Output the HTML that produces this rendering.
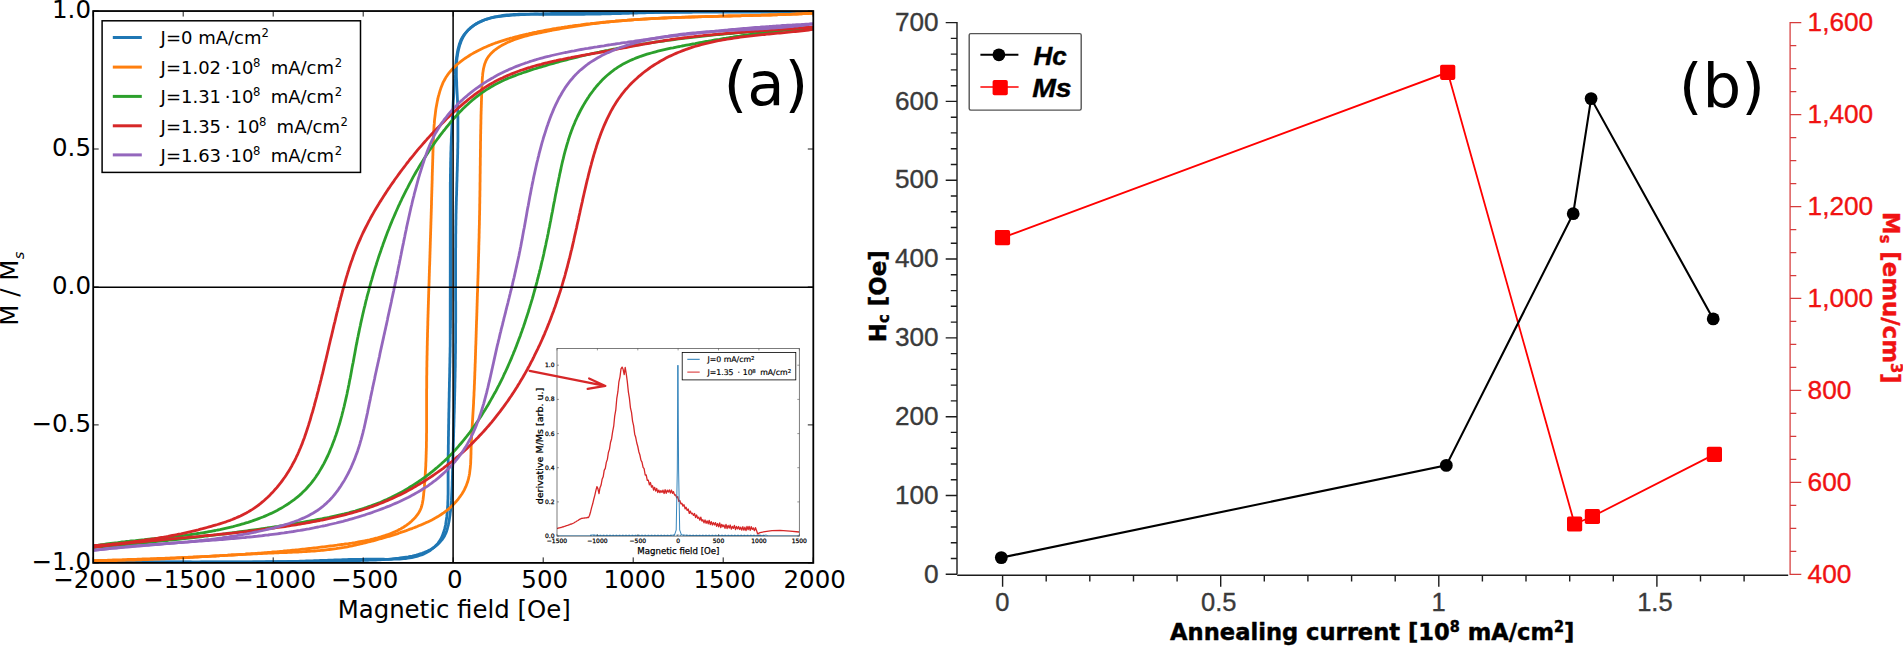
<!DOCTYPE html>
<html lang="en"><head><meta charset="utf-8"><title>Hysteresis loops and annealing current</title>
<style>html,body{margin:0;padding:0;background:#fff;overflow:hidden}svg{display:block}</style></head>
<body>
<svg width="1903" height="647" viewBox="0 0 1903 647">
<rect width="1903" height="647" fill="#fff"/>
<g id="panelA">
<defs><clipPath id="clipA"><rect x="93.2" y="11.05" width="720.0999999999999" height="551.85"/></clipPath></defs>
<g clip-path="url(#clipA)" fill="none" stroke-width="2.8" stroke-linejoin="round" stroke-linecap="butt">
<path stroke="#1f77b4" d="M93.6 562.4L95.6 562.4L97.7 562.4L99.7 562.4L101.7 562.4L103.8 562.4L105.8 562.3L107.8 562.3L109.9 562.3L111.9 562.3L113.9 562.3L115.9 562.3L118.0 562.3L120.0 562.3L122.0 562.3L124.1 562.3L126.1 562.3L128.1 562.3L130.2 562.3L132.2 562.2L134.2 562.2L136.3 562.2L138.3 562.2L140.3 562.2L142.4 562.2L144.4 562.2L146.4 562.2L148.4 562.2L150.5 562.2L152.5 562.2L154.5 562.2L156.6 562.2L158.6 562.2L160.6 562.2L162.7 562.2L164.7 562.2L166.7 562.1L168.8 562.1L170.8 562.1L172.8 562.1L174.8 562.1L176.9 562.1L178.9 562.1L180.9 562.1L183.0 562.1L185.0 562.1L187.0 562.1L189.1 562.1L191.1 562.1L193.1 562.1L195.2 562.1L197.2 562.1L199.2 562.1L201.3 562.0L203.3 562.0L205.3 562.0L207.3 562.0L209.4 562.0L211.4 562.0L213.4 562.0L215.5 562.0L217.5 562.0L219.5 562.0L221.6 562.0L223.6 562.0L225.6 562.0L227.7 562.0L229.7 561.9L231.7 561.9L233.8 561.9L235.8 561.9L237.8 561.9L239.8 561.9L241.9 561.9L243.9 561.9L245.9 561.9L248.0 561.9L250.0 561.8L252.0 561.8L254.1 561.8L256.1 561.8L258.1 561.8L260.2 561.8L262.2 561.8L264.2 561.8L266.3 561.7L268.3 561.7L270.3 561.7L272.3 561.7L274.4 561.7L276.4 561.7L278.4 561.7L280.5 561.6L282.5 561.6L284.5 561.6L286.6 561.6L288.6 561.6L290.6 561.6L292.7 561.5L294.7 561.5L296.7 561.5L298.8 561.5L300.8 561.5L302.8 561.4L304.8 561.4L306.9 561.4L308.9 561.4L310.9 561.4L313.0 561.3L315.0 561.3L317.0 561.3L319.1 561.3L321.1 561.2L323.1 561.2L325.2 561.2L327.2 561.1L329.2 561.1L331.2 561.1L333.3 561.0L335.3 561.0L337.3 561.0L339.4 560.9L341.4 560.9L343.4 560.9L345.5 560.8L347.5 560.8L349.5 560.7L351.6 560.7L353.6 560.6L355.6 560.6L357.6 560.6L359.7 560.5L361.7 560.4L363.7 560.4L365.8 560.3L367.8 560.3L369.8 560.2L371.9 560.1L373.9 560.1L375.9 560.0L377.9 559.9L380.0 559.8L382.0 559.7L384.0 559.6L386.1 559.4L388.1 559.3L390.1 559.1L392.1 558.9L394.2 558.7L396.2 558.5L398.2 558.3L400.2 558.0L402.2 557.7L404.2 557.4L406.2 557.1L408.2 556.8L410.2 556.4L412.2 556.0L414.2 555.5L416.2 555.1L418.1 554.5L420.1 553.9L422.0 553.3L423.9 552.6L425.8 551.8L427.6 551.0L429.5 550.1L431.2 549.1L433.0 548.0L434.6 546.9L436.2 545.6L437.8 544.3L439.3 542.9L440.6 541.4L441.9 539.9L443.1 538.2L444.2 536.5L445.1 534.7L446.0 532.8L446.7 530.9L447.3 529.0L447.8 527.0L448.3 525.1L448.7 523.1L449.1 521.1L449.4 519.1L449.7 517.1L450.0 515.1L450.2 513.0L450.5 511.0L450.7 509.0L450.9 507.0L451.1 505.0L451.2 502.9L451.4 500.9L451.5 498.9L451.6 496.9L451.7 494.8L451.8 492.8L451.9 490.8L452.0 488.7L452.1 486.7L452.2 484.7L452.2 482.6L452.3 480.6L452.4 478.6L452.4 476.6L452.5 474.5L452.5 472.5L452.6 470.5L452.6 468.4L452.7 466.4L452.8 464.4L452.8 462.3L452.9 460.3L452.9 458.3L453.0 456.3L453.0 454.2L453.1 452.2L453.2 450.2L453.2 448.1L453.3 446.1L453.3 444.1L453.4 442.0L453.5 440.0L453.5 438.0L453.6 436.0L453.6 433.9L453.7 431.9L453.7 429.9L453.8 427.8L453.9 425.8L453.9 423.8L454.0 421.7L454.0 419.7L454.1 417.7L454.1 415.6L454.2 413.6L454.3 411.6L454.3 409.6L454.4 407.5L454.4 405.5L454.5 403.5L454.5 401.4L454.6 399.4L454.6 397.4L454.7 395.3L454.7 393.3L454.8 391.3L454.8 389.3L454.9 387.2L454.9 385.2L454.9 383.2L455.0 381.1L455.0 379.1L455.1 377.1L455.1 375.0L455.1 373.0L455.2 371.0L455.2 368.9L455.3 366.9L455.3 364.9L455.3 362.8L455.3 360.8L455.4 358.8L455.4 356.8L455.4 354.7L455.5 352.7L455.5 350.7L455.5 348.6L455.5 346.6L455.5 344.6L455.6 342.5L455.6 340.5L455.6 338.5L455.6 336.4L455.6 334.4L455.6 332.4L455.6 330.4L455.6 328.3L455.6 326.3L455.6 324.3L455.7 322.2L455.7 320.2L455.7 318.2L455.7 316.1L455.7 314.1L455.7 312.1L455.7 310.0L455.7 308.0L455.7 306.0L455.7 303.9L455.7 301.9L455.6 299.9L455.6 297.9L455.6 295.8L455.6 293.8L455.6 291.8L455.6 289.7L455.6 287.7L455.6 285.7L455.6 283.6L455.6 281.6L455.6 279.6L455.6 277.5L455.6 275.5L455.6 273.5L455.6 271.4L455.6 269.4L455.6 267.4L455.6 265.4L455.6 263.3L455.6 261.3L455.6 259.3L455.6 257.2L455.6 255.2L455.6 253.2L455.6 251.1L455.6 249.1L455.7 247.1L455.7 245.0L455.7 243.0L455.7 241.0L455.7 238.9L455.7 236.9L455.7 234.9L455.8 232.9L455.8 230.8L455.8 228.8L455.8 226.8L455.9 224.7L455.9 222.7L455.9 220.7L456.0 218.6L456.0 216.6L456.0 214.6L456.1 212.5L456.1 210.5L456.2 208.5L456.2 206.5L456.3 204.4L456.3 202.4L456.4 200.4L456.4 198.3L456.5 196.3L456.6 194.3L456.6 192.2L456.7 190.2L456.7 188.2L456.8 186.1L456.8 184.1L456.9 182.1L457.0 180.1L457.0 178.0L457.1 176.0L457.1 174.0L457.2 171.9L457.3 169.9L457.3 167.9L457.4 165.8L457.4 163.8L457.5 161.8L457.5 159.8L457.6 157.7L457.6 155.7L457.7 153.7L457.7 151.6L457.7 149.6L457.8 147.6L457.8 145.5L457.8 143.5L457.9 141.5L457.9 139.4L457.9 137.4L457.9 135.4L457.9 133.4L457.9 131.3L457.9 129.3L457.9 127.3L457.9 125.2L457.9 123.2L457.9 121.2L457.9 119.1L457.9 117.1L457.8 115.1L457.8 113.0L457.8 111.0L457.7 109.0L457.7 106.9L457.6 104.9L457.6 102.9L457.5 100.9L457.4 98.8L457.3 96.8L457.2 94.8L457.1 92.7L457.0 90.7L456.9 88.7L456.8 86.7L456.7 84.6L456.7 82.6L456.6 80.6L456.5 78.5L456.4 76.5L456.4 74.5L456.4 72.4L456.4 70.4L456.4 68.4L456.5 66.4L456.5 64.3L456.7 62.3L456.8 60.3L457.0 58.3L457.3 56.2L457.6 54.2L458.0 52.2L458.4 50.2L458.9 48.3L459.4 46.3L460.0 44.4L460.7 42.5L461.4 40.6L462.3 38.7L463.2 36.9L464.2 35.2L465.3 33.5L466.6 31.8L467.9 30.3L469.3 28.9L470.8 27.5L472.4 26.3L474.1 25.1L475.8 24.0L477.6 23.0L479.4 22.1L481.3 21.3L483.1 20.5L485.0 19.8L487.0 19.1L488.9 18.5L490.8 17.9L492.8 17.4L494.8 16.9L496.8 16.5L498.8 16.1L500.8 15.8L502.8 15.5L504.8 15.2L506.8 15.0L508.8 14.8L510.8 14.6L512.9 14.5L514.9 14.3L516.9 14.3L519.0 14.2L521.0 14.1L523.0 14.1L525.1 14.1L527.1 14.1L529.1 14.1L531.1 14.1L533.2 14.2L535.2 14.2L537.2 14.2L539.3 14.3L541.3 14.3L543.3 14.3L545.4 14.3L547.4 14.4L549.4 14.4L551.5 14.4L553.5 14.4L555.5 14.4L557.5 14.4L559.6 14.4L561.6 14.4L563.6 14.4L565.7 14.4L567.7 14.4L569.7 14.4L571.8 14.4L573.8 14.4L575.8 14.4L577.9 14.3L579.9 14.3L581.9 14.3L584.0 14.3L586.0 14.2L588.0 14.2L590.0 14.2L592.1 14.1L594.1 14.1L596.1 14.1L598.2 14.0L600.2 14.0L602.2 13.9L604.3 13.9L606.3 13.9L608.3 13.8L610.4 13.8L612.4 13.7L614.4 13.7L616.4 13.6L618.5 13.5L620.5 13.5L622.5 13.4L624.6 13.4L626.6 13.3L628.6 13.3L630.7 13.2L632.7 13.1L634.7 13.1L636.7 13.0L638.8 12.9L640.8 12.9L642.8 12.8L644.9 12.8L646.9 12.7L648.9 12.6L651.0 12.6L653.0 12.5L655.0 12.4L657.1 12.4L659.1 12.3L661.1 12.2L663.1 12.2L665.2 12.1L667.2 12.0L669.2 12.0L671.3 11.9L673.3 11.9L675.3 11.8L677.4 11.7L679.4 11.7L681.4 11.6L683.4 11.5L685.5 11.5L687.5 11.4L689.5 11.4L691.6 11.3L693.6 11.3L695.6 11.2L697.7 11.1L699.7 11.1L701.7 11.0L703.7 11.0L705.8 10.9L707.8 10.9L709.8 10.9L711.9 10.8L713.9 10.8L715.9 10.7L718.0 10.7L720.0 10.6L722.0 10.6L724.1 10.6L726.1 10.5L728.1 10.5L730.1 10.5L732.2 10.5L734.2 10.4L736.2 10.4L738.3 10.4L740.3 10.4L742.3 10.4L744.4 10.4L746.4 10.4L748.4 10.4L750.5 10.3L752.5 10.3L754.5 10.3L756.6 10.4L758.6 10.4L760.6 10.4L762.6 10.4L764.7 10.4L766.7 10.4L768.7 10.5L770.8 10.5L772.8 10.5L774.8 10.5L776.9 10.6L778.9 10.6L780.9 10.7L783.0 10.7L785.0 10.8L787.0 10.8L789.0 10.9L791.1 10.9L793.1 11.0L795.1 11.1L797.2 11.2L799.2 11.2L801.2 11.3L803.3 11.4L805.3 11.5L807.3 11.6L809.3 11.7L811.4 11.8L813.4 11.9"/>
<path stroke="#1f77b4" d="M813.0 11.8L811.0 11.8L808.9 11.8L806.9 11.8L804.9 11.9L802.9 11.9L800.8 11.9L798.8 11.9L796.8 11.9L794.7 11.9L792.7 11.9L790.7 11.9L788.7 11.9L786.6 12.0L784.6 12.0L782.6 12.0L780.5 12.0L778.5 12.0L776.5 12.0L774.4 12.0L772.4 12.0L770.4 12.0L768.4 12.0L766.3 12.0L764.3 12.0L762.3 12.1L760.2 12.1L758.2 12.1L756.2 12.1L754.1 12.1L752.1 12.1L750.1 12.1L748.1 12.1L746.0 12.1L744.0 12.1L742.0 12.1L739.9 12.1L737.9 12.1L735.9 12.1L733.8 12.1L731.8 12.1L729.8 12.1L727.8 12.2L725.7 12.2L723.7 12.2L721.7 12.2L719.6 12.2L717.6 12.2L715.6 12.2L713.5 12.2L711.5 12.2L709.5 12.2L707.5 12.2L705.4 12.2L703.4 12.2L701.4 12.2L699.3 12.2L697.3 12.2L695.3 12.2L693.2 12.2L691.2 12.3L689.2 12.3L687.2 12.3L685.1 12.3L683.1 12.3L681.1 12.3L679.0 12.3L677.0 12.3L675.0 12.3L673.0 12.3L670.9 12.3L668.9 12.3L666.9 12.3L664.8 12.3L662.8 12.4L660.8 12.4L658.7 12.4L656.7 12.4L654.7 12.4L652.7 12.4L650.6 12.4L648.6 12.4L646.6 12.4L644.5 12.4L642.5 12.5L640.5 12.5L638.4 12.5L636.4 12.5L634.4 12.5L632.4 12.5L630.3 12.5L628.3 12.6L626.3 12.6L624.2 12.6L622.2 12.6L620.2 12.6L618.1 12.6L616.1 12.6L614.1 12.7L612.1 12.7L610.0 12.7L608.0 12.7L606.0 12.7L603.9 12.8L601.9 12.8L599.9 12.8L597.8 12.8L595.8 12.8L593.8 12.9L591.8 12.9L589.7 12.9L587.7 12.9L585.7 12.9L583.6 13.0L581.6 13.0L579.6 13.0L577.6 13.0L575.5 13.1L573.5 13.1L571.5 13.1L569.4 13.2L567.4 13.2L565.4 13.2L563.3 13.3L561.3 13.3L559.3 13.3L557.3 13.4L555.2 13.4L553.2 13.5L551.2 13.5L549.1 13.6L547.1 13.6L545.1 13.7L543.1 13.7L541.0 13.8L539.0 13.9L537.0 14.0L534.9 14.0L532.9 14.1L530.9 14.2L528.9 14.3L526.8 14.4L524.8 14.5L522.8 14.6L520.7 14.7L518.7 14.8L516.7 14.9L514.7 15.1L512.6 15.2L510.6 15.4L508.6 15.5L506.6 15.7L504.5 15.8L502.5 16.0L500.5 16.3L498.5 16.5L496.5 16.8L494.5 17.2L492.5 17.6L490.5 18.0L488.6 18.6L486.6 19.1L484.7 19.8L482.8 20.6L481.0 21.4L479.1 22.3L477.4 23.2L475.6 24.3L473.9 25.4L472.3 26.6L470.7 27.9L469.2 29.2L467.7 30.6L466.3 32.1L465.0 33.6L463.7 35.2L462.6 36.9L461.6 38.7L460.7 40.5L460.0 42.4L459.3 44.3L458.8 46.3L458.3 48.2L457.8 50.2L457.4 52.2L457.1 54.2L456.8 56.2L456.5 58.2L456.2 60.2L456.0 62.2L455.8 64.3L455.6 66.3L455.5 68.3L455.3 70.3L455.2 72.4L455.1 74.4L454.9 76.4L454.8 78.4L454.6 80.5L454.5 82.5L454.4 84.5L454.2 86.5L454.1 88.6L454.0 90.6L453.9 92.6L453.7 94.6L453.6 96.7L453.5 98.7L453.3 100.7L453.2 102.7L453.1 104.8L453.0 106.8L452.9 108.8L452.7 110.8L452.6 112.9L452.5 114.9L452.4 116.9L452.3 118.9L452.2 121.0L452.1 123.0L452.0 125.0L451.9 127.1L451.8 129.1L451.7 131.1L451.6 133.1L451.5 135.2L451.4 137.2L451.3 139.2L451.3 141.3L451.2 143.3L451.1 145.3L451.0 147.3L451.0 149.4L450.9 151.4L450.8 153.4L450.8 155.5L450.8 285.4L450.8 287.4L450.8 283.3L450.8 289.4L450.8 281.3L450.8 291.4L450.8 279.3L450.8 293.5L450.8 277.2L450.8 295.5L450.8 275.2L450.8 297.5L450.8 273.2L450.7 299.6L450.7 271.1L450.7 157.5L450.7 269.1L450.7 301.6L450.7 267.1L450.7 303.6L450.7 265.1L450.7 305.7L450.7 263.0L450.7 307.7L450.7 159.5L450.7 261.0L450.7 309.7L450.7 259.0L450.7 311.7L450.6 256.9L450.6 161.5L450.6 254.9L450.6 313.8L450.6 252.9L450.6 315.8L450.6 250.8L450.6 163.6L450.6 317.8L450.6 248.8L450.6 319.9L450.6 246.8L450.6 165.6L450.5 244.8L450.5 321.9L450.5 242.7L450.5 167.6L450.5 323.9L450.5 240.7L450.5 238.7L450.5 326.0L450.5 169.7L450.5 236.6L450.5 328.0L450.5 234.6L450.5 171.7L450.4 232.6L450.4 330.0L450.4 173.7L450.4 230.6L450.4 228.5L450.4 332.0L450.4 175.7L450.4 226.5L450.4 177.8L450.4 224.5L450.4 334.1L450.4 222.4L450.4 179.8L450.3 220.4L450.3 336.1L450.3 181.8L450.3 218.4L450.3 216.3L450.3 183.9L450.3 214.3L450.3 338.1L450.3 185.9L450.3 212.3L450.3 187.9L450.3 210.3L450.3 190.0L450.3 208.2L450.3 192.0L450.3 206.2L450.3 340.2L450.3 194.0L450.3 204.2L450.3 202.1L450.3 196.0L450.3 200.1L450.3 198.1L450.2 342.2L450.2 344.2L450.2 346.2L450.1 348.3L450.1 350.3L450.1 352.3L450.0 354.4L450.0 356.4L449.9 358.4L449.9 360.5L449.9 362.5L449.8 364.5L449.8 366.5L449.7 368.6L449.7 370.6L449.7 372.6L449.6 374.7L449.6 376.7L449.5 378.7L449.5 380.7L449.4 382.8L449.4 384.8L449.4 386.8L449.3 388.9L449.3 390.9L449.2 392.9L449.2 395.0L449.2 397.0L449.1 399.0L449.1 401.0L449.0 403.1L449.0 405.1L449.0 407.1L448.9 409.2L448.9 411.2L448.8 413.2L448.8 415.2L448.8 417.3L448.7 419.3L448.7 421.3L448.7 423.4L448.6 425.4L448.6 427.4L448.6 429.5L448.5 431.5L448.5 433.5L448.5 435.5L448.4 437.6L448.4 439.6L448.4 441.6L448.4 443.7L448.3 445.7L448.3 447.7L448.3 449.8L448.3 451.8L448.2 453.8L448.2 455.8L448.2 457.9L448.2 459.9L448.2 461.9L448.2 464.0L448.1 466.0L448.1 468.0L448.1 470.0L448.1 472.1L448.1 474.1L448.1 476.1L448.1 484.3L448.1 478.2L448.1 482.2L448.1 486.3L448.1 480.2L448.1 488.3L448.1 490.3L448.1 492.4L448.1 494.4L448.0 496.4L448.0 498.5L447.9 500.5L447.8 502.5L447.8 504.6L447.6 506.6L447.5 508.6L447.4 510.6L447.2 512.6L447.0 514.7L446.8 516.7L446.5 518.7L446.2 520.7L445.9 522.7L445.6 524.7L445.2 526.7L444.7 528.7L444.1 530.6L443.5 532.6L442.8 534.5L442.1 536.4L441.2 538.2L440.2 539.9L439.1 541.7L437.9 543.3L436.6 544.8L435.2 546.3L433.7 547.7L432.1 549.0L430.5 550.2L428.8 551.3L427.0 552.3L425.2 553.3L423.4 554.1L421.5 554.9L419.6 555.5L417.7 556.1L415.7 556.7L413.7 557.1L411.7 557.6L409.7 557.9L407.7 558.2L405.7 558.5L403.7 558.7L401.7 558.9L399.7 559.0L397.6 559.1L395.6 559.2L393.6 559.2L391.5 559.3L389.5 559.3L387.5 559.3L385.5 559.3L383.4 559.2L381.4 559.2L379.4 559.2L377.3 559.2L375.3 559.2L373.3 559.2L371.2 559.2L369.2 559.2L367.2 559.2L365.2 559.2L363.1 559.3L361.1 559.3L359.1 559.3L357.0 559.4L355.0 559.4L353.0 559.4L350.9 559.5L348.9 559.5L346.9 559.6L344.9 559.7L342.8 559.7L340.8 559.8L338.8 559.9L336.7 559.9L334.7 560.0L332.7 560.1L330.7 560.1L328.6 560.2L326.6 560.3L324.6 560.4L322.5 560.4L320.5 560.5L318.5 560.6L316.5 560.7L314.4 560.7L312.4 560.8L310.4 560.9L308.3 560.9L306.3 561.0L304.3 561.1L302.3 561.1L300.2 561.2L298.2 561.3L296.2 561.3L294.1 561.4L292.1 561.4L290.1 561.5L288.1 561.5L286.0 561.6L284.0 561.6L282.0 561.7L279.9 561.7L277.9 561.7L275.9 561.8L273.9 561.8L271.8 561.8L269.8 561.9L267.8 561.9L265.7 561.9L263.7 562.0L261.7 562.0L259.6 562.0L257.6 562.0L255.6 562.0L253.6 562.0L251.5 562.1L249.5 562.1L247.5 562.1L245.4 562.1L243.4 562.1L241.4 562.1L239.3 562.1L237.3 562.1L235.3 562.1L233.3 562.1L231.2 562.1L229.2 562.1L227.2 562.1L225.1 562.1L223.1 562.1L221.1 562.1L219.0 562.1L217.0 562.1L215.0 562.1L213.0 562.1L210.9 562.1L208.9 562.1L206.9 562.1L204.8 562.1L202.8 562.1L200.8 562.1L198.7 562.1L196.7 562.1L194.7 562.1L192.7 562.1L190.6 562.0L188.6 562.0L186.6 562.0L184.5 562.0L182.5 562.0L180.5 562.0L178.5 562.0L176.4 562.0L174.4 562.0L172.4 562.0L170.3 562.0L168.3 562.0L166.3 561.9L164.2 561.9L162.2 561.9L160.2 561.9L158.2 561.9L156.1 561.9L154.1 561.9L152.1 561.9L150.0 561.9L148.0 561.9L146.0 561.9L143.9 561.9L141.9 561.9L139.9 561.9L137.9 561.9L135.8 561.9L133.8 561.9L131.8 561.9L129.7 561.9L127.7 561.9L125.7 561.9L123.6 562.0L121.6 562.0L119.6 562.0L117.6 562.0L115.5 562.0L113.5 562.0L111.5 562.1L109.4 562.1L107.4 562.1L105.4 562.1L103.3 562.1L101.3 562.2L99.3 562.2L97.3 562.2L95.2 562.3L93.2 562.3"/>
<path stroke="#ff7f0e" d="M93.2 560.7L94.9 560.7L96.5 560.7L98.2 560.7L99.8 560.7L101.5 560.7L103.1 560.7L104.8 560.6L106.4 560.6L108.1 560.6L109.7 560.6L111.4 560.6L113.0 560.5L114.7 560.5L116.4 560.5L118.0 560.4L119.7 560.4L121.3 560.4L123.0 560.3L124.6 560.3L126.3 560.2L127.9 560.2L129.6 560.1L131.2 560.1L132.9 560.0L134.5 560.0L136.2 559.9L137.8 559.9L139.5 559.8L141.2 559.8L142.8 559.7L144.5 559.6L146.1 559.6L147.8 559.5L149.4 559.4L151.1 559.4L152.7 559.3L154.4 559.2L156.0 559.2L157.7 559.1L159.3 559.0L161.0 558.9L162.6 558.9L164.3 558.8L165.9 558.7L167.6 558.6L169.2 558.5L170.9 558.4L172.5 558.4L174.2 558.3L175.8 558.2L177.5 558.1L179.2 558.0L180.8 557.9L182.5 557.8L184.1 557.8L185.8 557.7L187.4 557.6L189.1 557.5L190.7 557.4L192.4 557.3L194.0 557.2L195.7 557.1L197.3 557.0L199.0 556.9L200.6 556.8L202.3 556.7L203.9 556.6L205.6 556.5L207.2 556.5L208.9 556.4L210.5 556.3L212.2 556.2L213.8 556.1L215.5 556.0L217.1 555.9L218.8 555.8L220.4 555.7L222.1 555.6L223.7 555.5L225.4 555.4L227.0 555.3L228.7 555.2L230.3 555.1L232.0 555.0L233.6 555.0L235.3 554.9L237.0 554.8L238.6 554.7L240.3 554.6L241.9 554.5L243.6 554.4L245.2 554.3L246.9 554.2L248.5 554.2L250.2 554.1L251.8 554.0L253.5 553.9L255.1 553.8L256.8 553.8L258.4 553.7L260.1 553.6L261.7 553.5L263.4 553.4L265.0 553.4L266.7 553.3L268.3 553.2L270.0 553.1L271.6 553.1L273.3 553.0L274.9 552.9L276.6 552.9L278.3 552.8L279.9 552.7L281.6 552.7L283.2 552.6L284.9 552.6L286.5 552.5L288.2 552.4L289.8 552.4L291.5 552.3L293.1 552.2L294.8 552.1L296.4 552.1L298.1 552.0L299.7 551.9L301.4 551.8L303.0 551.7L304.7 551.6L306.3 551.5L308.0 551.4L309.6 551.3L311.3 551.2L312.9 551.1L314.6 551.0L316.2 550.9L317.9 550.7L319.5 550.6L321.2 550.4L322.8 550.3L324.5 550.1L326.1 549.9L327.8 549.7L329.4 549.5L331.0 549.3L332.7 549.1L334.3 548.9L336.0 548.7L337.6 548.4L339.2 548.2L340.9 547.9L342.5 547.6L344.1 547.4L345.8 547.1L347.4 546.8L349.0 546.4L350.6 546.1L352.2 545.8L353.9 545.4L355.5 545.1L357.1 544.7L358.7 544.4L360.3 544.0L361.9 543.6L363.5 543.2L365.1 542.8L366.8 542.4L368.4 542.0L370.0 541.6L371.6 541.2L373.2 540.8L374.8 540.4L376.4 539.9L377.9 539.5L379.5 539.0L381.1 538.6L382.7 538.1L384.3 537.7L385.9 537.2L387.5 536.7L389.1 536.3L390.6 535.8L392.2 535.3L393.8 534.8L395.4 534.3L397.0 533.8L398.5 533.3L400.1 532.7L401.7 532.2L403.2 531.7L404.8 531.1L406.3 530.6L407.9 530.0L409.4 529.4L411.0 528.8L412.5 528.3L414.1 527.7L415.6 527.1L417.2 526.5L418.7 525.8L420.2 525.2L421.8 524.6L423.3 523.9L424.8 523.3L426.3 522.6L427.8 521.9L429.3 521.2L430.8 520.5L432.3 519.7L433.7 518.9L435.2 518.1L436.6 517.3L438.0 516.5L439.4 515.6L440.8 514.7L442.2 513.8L443.6 512.9L444.9 511.9L446.2 510.9L447.5 509.8L448.8 508.8L450.0 507.7L451.2 506.6L452.4 505.4L453.6 504.3L454.7 503.1L455.9 501.8L456.9 500.6L458.0 499.3L459.0 498.0L460.0 496.7L461.0 495.3L461.9 494.0L462.8 492.6L463.6 491.1L464.4 489.7L465.1 488.2L465.8 486.7L466.4 485.2L467.0 483.6L467.6 482.1L468.0 480.5L468.5 478.9L468.8 477.3L469.2 475.6L469.5 474.0L469.7 472.4L469.9 470.7L470.1 469.1L470.3 467.5L470.4 465.8L470.6 464.2L470.7 462.5L470.7 460.9L470.8 459.2L470.9 457.5L470.9 455.9L471.0 454.2L471.0 452.6L471.0 450.9L471.1 449.3L471.1 447.6L471.2 446.0L471.3 444.3L471.3 442.7L471.4 441.0L471.5 439.4L471.6 437.7L471.6 436.1L471.7 434.4L471.8 432.8L471.9 431.1L472.0 429.5L472.1 427.8L472.2 426.2L472.3 424.5L472.4 422.9L472.5 421.2L472.6 419.5L472.7 417.9L472.8 416.2L472.9 414.6L473.0 412.9L473.1 411.3L473.2 409.6L473.3 408.0L473.4 406.3L473.5 404.7L473.6 403.0L473.6 401.4L473.7 399.7L473.8 398.1L473.9 396.4L474.0 394.8L474.0 393.1L474.1 391.5L474.2 389.8L474.3 388.2L474.3 386.5L474.4 384.9L474.5 383.2L474.5 381.6L474.6 379.9L474.7 378.2L474.7 376.6L474.8 374.9L474.8 373.3L474.9 371.6L475.0 370.0L475.0 368.3L475.1 366.7L475.1 365.0L475.2 363.4L475.3 361.7L475.3 360.1L475.4 358.4L475.4 356.8L475.5 355.1L475.5 353.5L475.6 351.8L475.6 350.1L475.7 348.5L475.7 346.8L475.8 345.2L475.9 343.5L475.9 341.9L476.0 340.2L476.0 338.6L476.1 336.9L476.1 335.3L476.2 333.6L476.2 332.0L476.3 330.3L476.3 328.7L476.4 327.0L476.4 325.4L476.5 323.7L476.5 322.0L476.6 320.4L476.7 318.7L476.7 317.1L476.8 315.4L476.8 313.8L476.9 312.1L476.9 310.5L477.0 308.8L477.0 307.2L477.1 305.5L477.1 303.9L477.2 302.2L477.2 300.6L477.3 298.9L477.3 297.2L477.4 295.6L477.4 293.9L477.5 292.3L477.6 290.6L477.6 289.0L477.7 287.3L477.7 285.7L477.8 284.0L477.8 282.4L477.9 280.7L477.9 279.1L478.0 277.4L478.0 275.8L478.1 274.1L478.1 272.5L478.2 270.8L478.2 269.1L478.3 267.5L478.3 265.8L478.3 264.2L478.4 262.5L478.4 260.9L478.5 259.2L478.5 257.6L478.6 255.9L478.6 254.3L478.7 252.6L478.7 251.0L478.8 249.3L478.8 247.7L478.8 246.0L478.9 244.3L478.9 242.7L479.0 241.0L479.0 239.4L479.1 237.7L479.1 236.1L479.1 234.4L479.2 232.8L479.2 231.1L479.2 229.5L479.3 227.8L479.3 226.2L479.4 224.5L479.4 222.8L479.4 221.2L479.5 219.5L479.5 217.9L479.5 216.2L479.6 214.6L479.6 212.9L479.6 211.3L479.7 209.6L479.7 208.0L479.7 206.3L479.7 204.7L479.8 203.0L479.8 201.4L479.8 199.7L479.8 198.0L479.9 196.4L479.9 194.7L479.9 193.1L479.9 191.4L480.0 189.8L480.0 188.1L480.0 186.5L480.0 184.8L480.0 183.2L480.1 181.5L480.1 179.9L480.1 178.2L480.1 176.5L480.1 174.9L480.2 173.2L480.2 171.6L480.2 169.9L480.2 168.3L480.2 166.6L480.3 165.0L480.3 163.3L480.3 161.7L480.3 160.0L480.3 158.4L480.4 156.7L480.4 155.0L480.4 153.4L480.4 151.7L480.4 150.1L480.5 148.4L480.5 146.8L480.5 145.1L480.5 143.5L480.5 141.8L480.6 140.2L480.6 138.5L480.6 136.9L480.6 135.2L480.7 133.5L480.7 131.9L480.7 130.2L480.8 128.6L480.8 126.9L480.8 125.3L480.9 123.6L480.9 122.0L480.9 120.3L481.0 118.7L481.0 117.0L481.0 115.4L481.1 113.7L481.1 112.0L481.2 110.4L481.2 108.7L481.3 107.1L481.3 105.4L481.4 103.8L481.4 102.1L481.5 100.5L481.5 98.8L481.6 97.2L481.6 95.5L481.7 93.9L481.7 92.2L481.8 90.6L481.9 88.9L481.9 87.3L482.0 85.6L482.1 83.9L482.2 82.3L482.2 80.6L482.3 79.0L482.4 77.3L482.6 75.7L482.7 74.0L482.9 72.4L483.2 70.8L483.4 69.1L483.8 67.5L484.2 65.9L484.6 64.3L485.2 62.8L485.8 61.2L486.5 59.7L487.3 58.3L488.2 56.9L489.2 55.6L490.3 54.3L491.4 53.1L492.6 52.0L493.8 50.9L495.1 49.8L496.5 48.8L497.8 47.9L499.2 47.0L500.6 46.1L502.0 45.3L503.5 44.5L505.0 43.8L506.4 43.0L507.9 42.3L509.5 41.6L511.0 41.0L512.5 40.4L514.0 39.8L515.6 39.2L517.2 38.6L518.7 38.1L520.3 37.6L521.9 37.1L523.5 36.7L525.1 36.2L526.7 35.8L528.3 35.4L529.9 35.0L531.5 34.6L533.1 34.2L534.7 33.9L536.3 33.5L537.9 33.2L539.6 32.8L541.2 32.5L542.8 32.2L544.4 31.8L546.0 31.5L547.7 31.2L549.3 30.9L550.9 30.5L552.5 30.2L554.2 29.9L555.8 29.6L557.4 29.3L559.0 29.0L560.7 28.7L562.3 28.4L563.9 28.2L565.5 27.9L567.2 27.6L568.8 27.3L570.4 27.1L572.1 26.8L573.7 26.5L575.3 26.3L577.0 26.0L578.6 25.8L580.2 25.5L581.9 25.3L583.5 25.1L585.2 24.8L586.8 24.6L588.4 24.4L590.1 24.2L591.7 23.9L593.4 23.7L595.0 23.5L596.6 23.3L598.3 23.1L599.9 22.9L601.6 22.7L603.2 22.6L604.9 22.4L606.5 22.2L608.1 22.0L609.8 21.9L611.4 21.7L613.1 21.5L614.7 21.4L616.4 21.2L618.0 21.1L619.7 20.9L621.3 20.8L623.0 20.6L624.6 20.5L626.3 20.3L627.9 20.2L629.6 20.1L631.2 20.0L632.9 19.8L634.5 19.7L636.2 19.6L637.8 19.5L639.5 19.4L641.1 19.2L642.8 19.1L644.4 19.0L646.1 18.9L647.7 18.8L649.4 18.7L651.0 18.6L652.7 18.5L654.3 18.5L656.0 18.4L657.6 18.3L659.3 18.2L660.9 18.1L662.6 18.0L664.2 18.0L665.9 17.9L667.5 17.8L669.2 17.7L670.8 17.7L672.5 17.6L674.1 17.5L675.8 17.5L677.4 17.4L679.1 17.3L680.8 17.3L682.4 17.2L684.1 17.2L685.7 17.1L687.4 17.1L689.0 17.0L690.7 17.0L692.3 16.9L694.0 16.9L695.6 16.8L697.3 16.8L698.9 16.7L700.6 16.7L702.2 16.6L703.9 16.6L705.5 16.5L707.2 16.5L708.9 16.5L710.5 16.4L712.2 16.4L713.8 16.3L715.5 16.3L717.1 16.3L718.8 16.2L720.4 16.2L722.1 16.2L723.7 16.1L725.4 16.1L727.0 16.0L728.7 16.0L730.4 16.0L732.0 15.9L733.7 15.9L735.3 15.9L737.0 15.8L738.6 15.8L740.3 15.8L741.9 15.7L743.6 15.7L745.2 15.6L746.9 15.6L748.5 15.6L750.2 15.5L751.8 15.5L753.5 15.4L755.2 15.4L756.8 15.4L758.5 15.3L760.1 15.3L761.8 15.2L763.4 15.2L765.1 15.1L766.7 15.1L768.4 15.1L770.0 15.0L771.7 15.0L773.3 14.9L775.0 14.9L776.6 14.8L778.3 14.7L780.0 14.7L781.6 14.6L783.3 14.6L784.9 14.5L786.6 14.4L788.2 14.4L789.9 14.3L791.5 14.3L793.2 14.2L794.8 14.1L796.5 14.0L798.1 14.0L799.8 13.9L801.4 13.8L803.1 13.7L804.7 13.6L806.4 13.6L808.0 13.5L809.7 13.4L811.3 13.3L813.0 13.2"/>
<path stroke="#ff7f0e" d="M813.0 13.2L811.4 13.3L809.7 13.4L808.1 13.5L806.4 13.5L804.8 13.6L803.1 13.7L801.5 13.8L799.8 13.9L798.2 13.9L796.5 14.0L794.9 14.1L793.2 14.1L791.6 14.2L789.9 14.3L788.3 14.3L786.6 14.4L785.0 14.5L783.3 14.5L781.6 14.6L780.0 14.6L778.3 14.7L776.7 14.8L775.0 14.8L773.4 14.9L771.7 14.9L770.1 15.0L768.4 15.0L766.8 15.1L765.1 15.1L763.5 15.2L761.8 15.2L760.2 15.3L758.5 15.3L756.9 15.3L755.2 15.4L753.6 15.4L751.9 15.5L750.3 15.5L748.6 15.6L747.0 15.6L745.3 15.6L743.7 15.7L742.0 15.7L740.4 15.8L738.7 15.8L737.1 15.8L735.4 15.9L733.8 15.9L732.1 16.0L730.5 16.0L728.8 16.0L727.2 16.1L725.5 16.1L723.9 16.2L722.2 16.2L720.6 16.2L718.9 16.3L717.3 16.3L715.6 16.4L714.0 16.4L712.3 16.5L710.7 16.5L709.0 16.5L707.4 16.6L705.7 16.6L704.0 16.7L702.4 16.7L700.7 16.8L699.1 16.8L697.4 16.9L695.8 16.9L694.1 17.0L692.5 17.0L690.8 17.1L689.2 17.1L687.5 17.2L685.9 17.2L684.2 17.3L682.6 17.3L680.9 17.4L679.3 17.4L677.6 17.5L676.0 17.6L674.3 17.6L672.7 17.7L671.0 17.8L669.4 17.8L667.7 17.9L666.1 18.0L664.4 18.0L662.8 18.1L661.1 18.2L659.5 18.3L657.8 18.4L656.2 18.4L654.5 18.5L652.9 18.6L651.2 18.7L649.6 18.8L647.9 18.9L646.3 19.0L644.6 19.1L643.0 19.2L641.3 19.3L639.7 19.4L638.0 19.5L636.4 19.6L634.7 19.7L633.1 19.8L631.5 19.9L629.8 20.0L628.2 20.1L626.5 20.3L624.9 20.4L623.2 20.5L621.6 20.6L619.9 20.8L618.3 20.9L616.6 21.0L615.0 21.2L613.3 21.3L611.7 21.5L610.1 21.6L608.4 21.8L606.8 21.9L605.1 22.1L603.5 22.2L601.8 22.4L600.2 22.6L598.5 22.8L596.9 22.9L595.3 23.1L593.6 23.3L592.0 23.5L590.3 23.7L588.7 23.8L587.1 24.0L585.4 24.2L583.8 24.4L582.1 24.6L580.5 24.9L578.9 25.1L577.2 25.3L575.6 25.5L574.0 25.7L572.3 26.0L570.7 26.2L569.0 26.4L567.4 26.7L565.8 26.9L564.1 27.2L562.5 27.4L560.9 27.7L559.3 27.9L557.6 28.2L556.0 28.5L554.4 28.7L552.7 29.0L551.1 29.3L549.5 29.6L547.9 29.9L546.2 30.2L544.6 30.5L543.0 30.8L541.4 31.1L539.7 31.4L538.1 31.7L536.5 32.1L534.9 32.4L533.3 32.7L531.6 33.1L530.0 33.4L528.4 33.8L526.8 34.1L525.2 34.5L523.6 34.9L522.0 35.3L520.4 35.7L518.8 36.1L517.2 36.5L515.6 36.9L514.0 37.3L512.4 37.8L510.8 38.2L509.2 38.7L507.6 39.1L506.0 39.6L504.5 40.1L502.9 40.6L501.3 41.1L499.8 41.6L498.2 42.1L496.6 42.7L495.1 43.2L493.5 43.8L492.0 44.4L490.4 45.0L488.9 45.6L487.4 46.2L485.9 46.9L484.4 47.6L482.9 48.3L481.4 49.0L479.9 49.7L478.4 50.4L476.9 51.2L475.5 52.0L474.0 52.8L472.6 53.6L471.2 54.4L469.8 55.3L468.4 56.2L467.0 57.1L465.6 58.0L464.3 58.9L462.9 59.9L461.6 60.9L460.3 61.9L459.0 63.0L457.8 64.0L456.5 65.1L455.3 66.2L454.1 67.4L452.9 68.5L451.8 69.8L450.7 71.0L449.7 72.2L448.6 73.5L447.6 74.9L446.7 76.2L445.8 77.6L445.0 79.0L444.2 80.5L443.4 81.9L442.7 83.4L442.1 85.0L441.5 86.5L440.9 88.1L440.4 89.6L439.9 91.2L439.4 92.8L439.0 94.4L438.5 96.0L438.1 97.6L437.8 99.2L437.4 100.8L437.1 102.4L436.8 104.0L436.5 105.7L436.2 107.3L435.9 108.9L435.7 110.5L435.5 112.2L435.3 113.8L435.1 115.5L434.9 117.1L434.7 118.7L434.5 120.4L434.4 122.0L434.3 123.7L434.1 125.3L434.0 127.0L433.9 128.6L433.8 130.3L433.7 131.9L433.7 133.6L433.6 135.2L433.5 136.9L433.4 138.5L433.4 140.2L433.3 141.8L433.3 143.5L433.2 145.1L433.2 146.8L433.1 148.4L433.0 150.1L433.0 151.7L432.9 153.4L432.9 155.0L432.8 156.7L432.8 158.3L432.7 160.0L432.7 161.6L432.6 163.3L432.6 164.9L432.5 166.6L432.5 168.2L432.4 169.9L432.4 171.5L432.3 173.2L432.3 174.8L432.2 176.5L432.2 178.1L432.2 179.8L432.1 181.4L432.1 183.1L432.0 184.7L432.0 186.4L431.9 188.0L431.9 189.7L431.8 191.4L431.8 193.0L431.7 194.7L431.7 196.3L431.6 198.0L431.6 199.6L431.5 201.3L431.5 202.9L431.5 204.6L431.4 206.2L431.4 207.9L431.3 209.5L431.3 211.2L431.2 212.8L431.2 214.5L431.1 216.1L431.1 217.8L431.0 219.4L431.0 221.1L430.9 222.7L430.9 224.4L430.8 226.0L430.8 227.7L430.7 229.3L430.7 231.0L430.6 232.6L430.6 234.3L430.5 235.9L430.5 237.6L430.4 239.2L430.4 240.9L430.3 242.5L430.3 244.2L430.2 245.8L430.2 247.5L430.1 249.1L430.1 250.8L430.0 252.4L430.0 254.1L429.9 255.7L429.9 257.4L429.8 259.0L429.8 260.7L429.7 262.3L429.7 264.0L429.6 265.6L429.5 267.3L429.5 268.9L429.4 270.6L429.4 272.2L429.3 273.9L429.3 275.5L429.2 277.2L429.2 278.8L429.1 280.5L429.1 282.2L429.0 283.8L429.0 285.5L428.9 287.1L428.8 288.8L428.8 290.4L428.7 292.1L428.7 293.7L428.6 295.4L428.6 297.0L428.5 298.7L428.5 300.3L428.4 302.0L428.4 303.6L428.3 305.3L428.3 306.9L428.2 308.6L428.2 310.2L428.1 311.9L428.1 313.5L428.0 315.2L428.0 316.8L427.9 318.5L427.9 320.1L427.8 321.8L427.8 323.4L427.8 325.1L427.7 326.7L427.7 328.4L427.6 330.0L427.6 331.7L427.5 333.3L427.5 335.0L427.5 336.6L427.4 338.3L427.4 339.9L427.3 341.6L427.3 343.2L427.3 344.9L427.2 346.5L427.2 348.2L427.2 349.8L427.1 351.5L427.1 353.1L427.1 354.8L427.0 356.4L427.0 358.1L427.0 359.8L426.9 361.4L426.9 363.1L426.9 364.7L426.9 366.4L426.8 368.0L426.8 369.7L426.8 371.3L426.8 373.0L426.8 374.6L426.7 376.3L426.7 377.9L426.7 379.6L426.7 381.2L426.7 382.9L426.7 384.5L426.7 386.2L426.7 387.8L426.6 389.5L426.6 391.1L426.6 392.8L426.6 394.4L426.6 396.1L426.6 397.7L426.6 399.4L426.6 412.6L426.6 411.0L426.6 414.3L426.6 409.3L426.6 401.0L426.6 415.9L426.6 407.6L426.6 406.0L426.6 402.7L426.6 404.3L426.6 417.6L426.6 419.2L426.6 420.9L426.6 422.5L426.6 424.2L426.6 425.8L426.6 427.5L426.6 429.1L426.6 430.8L426.6 432.4L426.5 434.1L426.5 435.7L426.5 437.4L426.5 439.0L426.5 440.7L426.4 442.3L426.4 444.0L426.4 445.6L426.4 447.3L426.3 448.9L426.3 450.6L426.2 452.2L426.2 453.9L426.1 455.5L426.1 457.2L426.0 458.8L426.0 460.5L425.9 462.1L425.8 463.8L425.8 465.4L425.7 467.1L425.6 468.7L425.5 470.4L425.4 472.0L425.3 473.7L425.2 475.3L425.1 477.0L425.0 478.6L424.9 480.3L424.8 481.9L424.6 483.6L424.5 485.2L424.4 486.9L424.2 488.5L424.1 490.2L423.9 491.8L423.7 493.4L423.6 495.1L423.4 496.7L423.2 498.4L423.0 500.0L422.7 501.6L422.4 503.3L422.0 504.9L421.6 506.5L421.1 508.0L420.4 509.6L419.7 511.0L418.9 512.5L418.0 513.9L417.1 515.2L416.0 516.5L415.0 517.8L413.8 519.0L412.7 520.1L411.5 521.3L410.2 522.4L409.0 523.4L407.6 524.4L406.3 525.4L404.9 526.3L403.5 527.2L402.1 528.0L400.7 528.9L399.2 529.6L397.7 530.4L396.3 531.1L394.8 531.8L393.2 532.4L391.7 533.1L390.2 533.7L388.6 534.3L387.1 534.8L385.5 535.4L384.0 535.9L382.4 536.4L380.8 536.9L379.2 537.3L377.6 537.8L376.0 538.2L374.4 538.6L372.8 539.0L371.2 539.4L369.6 539.8L368.0 540.1L366.4 540.5L364.8 540.8L363.2 541.1L361.5 541.4L359.9 541.7L358.3 542.0L356.6 542.3L355.0 542.6L353.4 542.8L351.8 543.1L350.1 543.3L348.5 543.6L346.9 543.8L345.2 544.0L343.6 544.3L341.9 544.5L340.3 544.7L338.7 544.9L337.0 545.2L335.4 545.4L333.8 545.6L332.1 545.8L330.5 546.0L328.8 546.2L327.2 546.4L325.6 546.6L323.9 546.8L322.3 547.0L320.7 547.2L319.0 547.4L317.4 547.6L315.7 547.8L314.1 548.0L312.4 548.2L310.8 548.4L309.2 548.5L307.5 548.7L305.9 548.9L304.2 549.1L302.6 549.2L301.0 549.4L299.3 549.6L297.7 549.8L296.0 549.9L294.4 550.1L292.7 550.2L291.1 550.4L289.4 550.6L287.8 550.7L286.2 550.9L284.5 551.0L282.9 551.2L281.2 551.3L279.6 551.5L277.9 551.6L276.3 551.8L274.6 551.9L273.0 552.0L271.4 552.2L269.7 552.3L268.1 552.4L266.4 552.6L264.8 552.7L263.1 552.8L261.5 553.0L259.8 553.1L258.2 553.2L256.5 553.3L254.9 553.5L253.2 553.6L251.6 553.7L249.9 553.8L248.3 553.9L246.6 554.0L245.0 554.2L243.4 554.3L241.7 554.4L240.1 554.5L238.4 554.6L236.8 554.7L235.1 554.8L233.5 554.9L231.8 555.0L230.2 555.1L228.5 555.2L226.9 555.3L225.2 555.4L223.6 555.5L221.9 555.6L220.3 555.7L218.6 555.8L217.0 555.9L215.3 556.0L213.7 556.0L212.0 556.1L210.4 556.2L208.7 556.3L207.1 556.4L205.4 556.5L203.8 556.6L202.1 556.6L200.5 556.7L198.8 556.8L197.2 556.9L195.5 556.9L193.9 557.0L192.2 557.1L190.6 557.2L188.9 557.2L187.3 557.3L185.6 557.4L184.0 557.5L182.3 557.5L180.7 557.6L179.0 557.7L177.4 557.7L175.7 557.8L174.1 557.9L172.4 557.9L170.8 558.0L169.1 558.1L167.5 558.1L165.8 558.2L164.2 558.3L162.5 558.3L160.9 558.4L159.2 558.4L157.6 558.5L155.9 558.6L154.3 558.6L152.6 558.7L151.0 558.7L149.3 558.8L147.7 558.9L146.0 558.9L144.4 559.0L142.7 559.0L141.1 559.1L139.4 559.1L137.8 559.2L136.1 559.3L134.5 559.3L132.8 559.4L131.2 559.4L129.5 559.5L127.9 559.5L126.2 559.6L124.6 559.7L122.9 559.7L121.3 559.8L119.6 559.8L118.0 559.9L116.3 559.9L114.7 560.0L113.0 560.0L111.4 560.1L109.7 560.1L108.1 560.2L106.4 560.3L104.7 560.3L103.1 560.4L101.4 560.4L99.8 560.5L98.1 560.5L96.5 560.6L94.8 560.6L93.2 560.7"/>
<path stroke="#2ca02c" d="M93.2 547.6L95.4 547.4L97.7 547.2L99.9 547.0L102.2 546.8L104.4 546.6L106.6 546.4L108.9 546.2L111.1 546.0L113.3 545.7L115.6 545.5L117.8 545.3L120.0 545.1L122.3 544.9L124.5 544.7L126.7 544.5L129.0 544.3L131.2 544.1L133.4 543.8L135.7 543.6L137.9 543.4L140.1 543.2L142.4 543.0L144.6 542.7L146.8 542.5L149.1 542.3L151.3 542.1L153.5 541.8L155.8 541.6L158.0 541.4L160.2 541.2L162.5 540.9L164.7 540.7L166.9 540.5L169.2 540.2L171.4 540.0L173.6 539.8L175.8 539.5L178.1 539.3L180.3 539.0L182.5 538.8L184.8 538.5L187.0 538.3L189.2 538.0L191.5 537.8L193.7 537.5L195.9 537.3L198.1 537.0L200.4 536.8L202.6 536.5L204.8 536.2L207.1 536.0L209.3 535.7L211.5 535.4L213.7 535.2L216.0 534.9L218.2 534.6L220.4 534.3L222.6 534.1L224.9 533.8L227.1 533.5L229.3 533.2L231.6 532.9L233.8 532.6L236.0 532.3L238.2 532.0L240.5 531.7L242.7 531.4L244.9 531.1L247.1 530.8L249.3 530.5L251.6 530.2L253.8 529.9L256.0 529.6L258.2 529.3L260.5 529.0L262.7 528.6L264.9 528.3L267.1 528.0L269.3 527.6L271.6 527.3L273.8 527.0L276.0 526.6L278.2 526.3L280.4 525.9L282.6 525.6L284.9 525.2L287.1 524.9L289.3 524.5L291.5 524.2L293.7 523.8L295.9 523.4L298.1 523.1L300.4 522.7L302.6 522.3L304.8 521.9L307.0 521.5L309.2 521.1L311.4 520.7L313.6 520.3L315.8 519.9L318.0 519.5L320.2 519.1L322.4 518.7L324.6 518.2L326.8 517.8L329.0 517.4L331.2 516.9L333.4 516.4L335.6 515.9L337.8 515.4L340.0 514.9L342.2 514.4L344.3 513.9L346.5 513.3L348.7 512.8L350.9 512.2L353.0 511.6L355.2 511.0L357.3 510.3L359.5 509.7L361.6 509.0L363.8 508.4L365.9 507.7L368.0 506.9L370.1 506.2L372.3 505.4L374.4 504.6L376.5 503.8L378.5 503.0L380.6 502.2L382.7 501.3L384.7 500.4L386.8 499.5L388.8 498.5L390.9 497.6L392.9 496.6L394.9 495.6L396.9 494.6L398.9 493.5L400.8 492.5L402.8 491.4L404.8 490.3L406.7 489.1L408.6 488.0L410.5 486.8L412.4 485.6L414.3 484.4L416.2 483.2L418.1 482.0L419.9 480.7L421.8 479.4L423.6 478.1L425.4 476.8L427.2 475.4L429.0 474.1L430.8 472.7L432.5 471.3L434.3 469.9L436.0 468.4L437.7 467.0L439.4 465.5L441.1 464.0L442.7 462.5L444.4 461.0L446.0 459.4L447.6 457.9L449.2 456.3L450.8 454.7L452.3 453.1L453.8 451.4L455.4 449.8L456.9 448.1L458.4 446.4L459.8 444.7L461.3 443.0L462.7 441.3L464.1 439.6L465.5 437.8L466.9 436.1L468.3 434.3L469.7 432.5L471.0 430.7L472.3 428.9L473.6 427.1L474.9 425.2L476.2 423.4L477.5 421.5L478.7 419.7L480.0 417.8L481.2 415.9L482.4 414.0L483.6 412.1L484.8 410.2L486.0 408.3L487.1 406.4L488.3 404.5L489.4 402.5L490.5 400.6L491.6 398.6L492.7 396.7L493.8 394.7L494.9 392.8L496.0 390.8L497.0 388.8L498.0 386.8L499.1 384.8L500.1 382.8L501.1 380.8L502.1 378.8L503.1 376.8L504.0 374.7L505.0 372.7L505.9 370.7L506.9 368.6L507.8 366.6L508.7 364.5L509.6 362.5L510.5 360.4L511.4 358.4L512.2 356.3L513.1 354.2L513.9 352.1L514.8 350.1L515.6 348.0L516.4 345.9L517.2 343.8L518.0 341.7L518.8 339.6L519.6 337.5L520.4 335.4L521.1 333.3L521.9 331.2L522.6 329.0L523.4 326.9L524.1 324.8L524.8 322.7L525.5 320.5L526.2 318.4L526.9 316.3L527.6 314.1L528.3 312.0L528.9 309.9L529.6 307.7L530.2 305.6L530.9 303.4L531.5 301.3L532.2 299.1L532.8 297.0L533.4 294.8L534.0 292.6L534.6 290.5L535.2 288.3L535.8 286.1L536.4 284.0L537.0 281.8L537.5 279.6L538.1 277.5L538.6 275.3L539.2 273.1L539.7 270.9L540.3 268.8L540.8 266.6L541.3 264.4L541.8 262.2L542.4 260.0L542.9 257.8L543.4 255.7L543.9 253.5L544.3 251.3L544.8 249.1L545.3 246.9L545.8 244.7L546.2 242.5L546.7 240.3L547.2 238.1L547.6 235.9L548.1 233.7L548.5 231.5L548.9 229.3L549.4 227.1L549.8 224.9L550.2 222.7L550.7 220.5L551.1 218.3L551.5 216.1L551.9 213.9L552.4 211.7L552.8 209.5L553.2 207.3L553.6 205.1L554.0 202.9L554.5 200.7L554.9 198.5L555.3 196.3L555.7 194.1L556.2 191.9L556.6 189.7L557.0 187.5L557.5 185.3L557.9 183.1L558.4 180.9L558.8 178.7L559.3 176.5L559.7 174.3L560.2 172.1L560.7 169.9L561.1 167.7L561.6 165.5L562.1 163.3L562.6 161.1L563.2 158.9L563.7 156.8L564.2 154.6L564.8 152.4L565.4 150.2L566.0 148.1L566.6 145.9L567.2 143.8L567.9 141.6L568.5 139.5L569.2 137.3L569.9 135.2L570.7 133.1L571.4 131.0L572.2 128.9L573.0 126.8L573.9 124.7L574.8 122.6L575.6 120.6L576.6 118.5L577.5 116.5L578.5 114.5L579.5 112.5L580.5 110.5L581.6 108.5L582.7 106.5L583.8 104.6L584.9 102.7L586.1 100.8L587.3 98.9L588.6 97.0L589.8 95.1L591.1 93.3L592.5 91.5L593.8 89.7L595.2 88.0L596.6 86.2L598.1 84.5L599.6 82.9L601.1 81.2L602.7 79.6L604.3 78.0L605.9 76.5L607.6 75.0L609.3 73.6L611.1 72.1L612.8 70.8L614.6 69.4L616.5 68.2L618.4 66.9L620.3 65.8L622.2 64.6L624.2 63.5L626.2 62.5L628.2 61.5L630.2 60.5L632.3 59.6L634.3 58.8L636.4 57.9L638.5 57.1L640.6 56.3L642.7 55.6L644.9 54.9L647.0 54.2L649.1 53.6L651.3 53.0L653.5 52.4L655.6 51.8L657.8 51.2L660.0 50.7L662.2 50.2L664.4 49.7L666.5 49.2L668.7 48.7L670.9 48.2L673.1 47.8L675.3 47.3L677.5 46.9L679.7 46.5L681.9 46.0L684.1 45.6L686.3 45.2L688.5 44.8L690.8 44.4L693.0 44.0L695.2 43.6L697.4 43.1L699.6 42.7L701.8 42.3L704.0 41.9L706.2 41.5L708.4 41.2L710.6 40.8L712.8 40.4L715.0 40.0L717.3 39.6L719.5 39.3L721.7 38.9L723.9 38.5L726.1 38.2L728.3 37.8L730.5 37.4L732.8 37.1L735.0 36.7L737.2 36.4L739.4 36.1L741.6 35.7L743.9 35.4L746.1 35.1L748.3 34.8L750.5 34.4L752.7 34.1L755.0 33.8L757.2 33.5L759.4 33.2L761.6 32.9L763.9 32.7L766.1 32.4L768.3 32.1L770.5 31.8L772.8 31.6L775.0 31.3L777.2 31.1L779.5 30.8L781.7 30.6L783.9 30.4L786.2 30.1L788.4 29.9L790.6 29.7L792.9 29.5L795.1 29.3L797.3 29.1L799.6 28.9L801.8 28.7L804.0 28.5L806.3 28.4L808.5 28.2L810.8 28.0L813.0 27.9"/>
<path stroke="#2ca02c" d="M813.0 27.5L810.8 27.6L808.5 27.8L806.3 27.9L804.0 28.0L801.8 28.2L799.6 28.3L797.3 28.5L795.1 28.6L792.9 28.8L790.6 28.9L788.4 29.1L786.1 29.2L783.9 29.4L781.7 29.5L779.4 29.7L777.2 29.8L775.0 30.0L772.7 30.1L770.5 30.3L768.2 30.4L766.0 30.6L763.8 30.8L761.5 30.9L759.3 31.1L757.1 31.3L754.8 31.4L752.6 31.6L750.4 31.8L748.1 32.0L745.9 32.2L743.6 32.3L741.4 32.5L739.2 32.7L736.9 32.9L734.7 33.1L732.5 33.3L730.2 33.5L728.0 33.7L725.8 33.9L723.5 34.1L721.3 34.3L719.1 34.5L716.8 34.7L714.6 34.9L712.4 35.2L710.1 35.4L707.9 35.6L705.7 35.8L703.5 36.1L701.2 36.3L699.0 36.6L696.8 36.8L694.5 37.1L692.3 37.3L690.1 37.6L687.9 37.8L685.6 38.1L683.4 38.4L681.2 38.6L678.9 38.9L676.7 39.2L674.5 39.5L672.3 39.8L670.0 40.1L667.8 40.3L665.6 40.7L663.4 41.0L661.2 41.3L658.9 41.6L656.7 41.9L654.5 42.2L652.3 42.6L650.1 42.9L647.8 43.2L645.6 43.6L643.4 43.9L641.2 44.3L639.0 44.6L636.8 45.0L634.6 45.4L632.4 45.8L630.1 46.1L627.9 46.5L625.7 46.9L623.5 47.3L621.3 47.7L619.1 48.1L616.9 48.5L614.7 49.0L612.5 49.4L610.3 49.8L608.1 50.3L605.9 50.7L603.7 51.2L601.5 51.6L599.3 52.1L597.1 52.5L594.9 53.0L592.7 53.5L590.5 54.0L588.4 54.5L586.2 55.0L584.0 55.5L581.8 56.0L579.6 56.5L577.4 57.1L575.3 57.6L573.1 58.1L570.9 58.7L568.7 59.2L566.6 59.8L564.4 60.4L562.2 60.9L560.1 61.5L557.9 62.1L555.7 62.7L553.6 63.3L551.4 63.9L549.3 64.5L547.1 65.2L545.0 65.8L542.8 66.4L540.7 67.1L538.5 67.7L536.4 68.4L534.2 69.0L532.1 69.7L530.0 70.4L527.8 71.1L525.7 71.8L523.6 72.5L521.5 73.3L519.3 74.0L517.2 74.8L515.1 75.6L513.0 76.4L511.0 77.2L508.9 78.0L506.8 78.9L504.8 79.8L502.7 80.8L500.7 81.7L498.7 82.7L496.7 83.7L494.7 84.8L492.7 85.9L490.8 87.0L488.9 88.2L487.0 89.4L485.1 90.6L483.3 91.9L481.4 93.1L479.6 94.5L477.8 95.8L476.1 97.2L474.3 98.6L472.6 100.0L470.9 101.5L469.2 103.0L467.6 104.5L465.9 106.0L464.3 107.6L462.7 109.1L461.1 110.7L459.5 112.3L458.0 114.0L456.5 115.6L455.0 117.3L453.5 118.9L452.0 120.6L450.5 122.3L449.1 124.1L447.7 125.8L446.3 127.5L444.9 129.3L443.5 131.0L442.1 132.8L440.7 134.6L439.4 136.4L438.1 138.2L436.7 140.0L435.4 141.8L434.1 143.7L432.8 145.5L431.6 147.3L430.3 149.2L429.0 151.0L427.8 152.9L426.6 154.8L425.4 156.7L424.1 158.6L423.0 160.5L421.8 162.4L420.6 164.3L419.4 166.2L418.3 168.1L417.2 170.1L416.0 172.0L414.9 174.0L413.8 175.9L412.7 177.9L411.7 179.8L410.6 181.8L409.5 183.8L408.5 185.8L407.5 187.8L406.4 189.8L405.4 191.8L404.4 193.8L403.4 195.8L402.4 197.8L401.5 199.8L400.5 201.8L399.6 203.9L398.6 205.9L397.7 208.0L396.8 210.0L395.9 212.0L395.0 214.1L394.1 216.2L393.2 218.2L392.3 220.3L391.5 222.4L390.6 224.4L389.8 226.5L389.0 228.6L388.1 230.7L387.3 232.8L386.5 234.9L385.7 237.0L385.0 239.1L384.2 241.2L383.4 243.3L382.7 245.4L381.9 247.5L381.2 249.6L380.5 251.8L379.7 253.9L379.0 256.0L378.3 258.1L377.6 260.3L376.9 262.4L376.3 264.5L375.6 266.7L374.9 268.8L374.3 271.0L373.6 273.1L373.0 275.3L372.4 277.4L371.8 279.6L371.1 281.7L370.5 283.9L369.9 286.1L369.3 288.2L368.8 290.4L368.2 292.6L367.6 294.7L367.0 296.9L366.5 299.1L365.9 301.2L365.4 303.4L364.9 305.6L364.3 307.8L363.8 310.0L363.3 312.1L362.8 314.3L362.3 316.5L361.8 318.7L361.3 320.9L360.8 323.1L360.4 325.3L359.9 327.5L359.4 329.7L359.0 331.9L358.5 334.1L358.1 336.3L357.6 338.4L357.2 340.6L356.8 342.9L356.3 345.1L355.9 347.3L355.5 349.5L355.1 351.7L354.7 353.9L354.3 356.1L353.9 358.3L353.5 360.5L353.1 362.7L352.6 364.9L352.2 367.1L351.8 369.3L351.4 371.5L351.0 373.7L350.6 375.9L350.2 378.1L349.7 380.3L349.3 382.5L348.9 384.7L348.4 386.9L348.0 389.1L347.5 391.3L347.1 393.5L346.6 395.7L346.1 397.9L345.6 400.1L345.1 402.3L344.6 404.4L344.1 406.6L343.5 408.8L343.0 411.0L342.4 413.2L341.9 415.3L341.3 417.5L340.7 419.7L340.1 421.8L339.5 424.0L338.8 426.1L338.1 428.3L337.5 430.4L336.8 432.5L336.1 434.7L335.3 436.8L334.6 438.9L333.8 441.0L333.0 443.1L332.2 445.2L331.4 447.3L330.5 449.3L329.7 451.4L328.8 453.5L327.9 455.5L326.9 457.5L325.9 459.6L324.9 461.6L323.9 463.6L322.8 465.5L321.7 467.5L320.6 469.4L319.4 471.4L318.3 473.3L317.0 475.1L315.8 477.0L314.5 478.8L313.1 480.6L311.8 482.4L310.4 484.1L308.9 485.8L307.4 487.5L305.9 489.2L304.3 490.8L302.7 492.3L301.1 493.9L299.4 495.4L297.7 496.8L296.0 498.2L294.2 499.6L292.4 500.9L290.6 502.2L288.7 503.5L286.8 504.7L284.9 505.9L283.0 507.1L281.1 508.2L279.1 509.3L277.1 510.4L275.1 511.4L273.1 512.4L271.1 513.4L269.1 514.3L267.0 515.2L265.0 516.1L262.9 517.0L260.8 517.8L258.7 518.6L256.6 519.4L254.5 520.1L252.4 520.9L250.3 521.6L248.1 522.3L246.0 522.9L243.8 523.6L241.7 524.2L239.5 524.8L237.4 525.4L235.2 526.0L233.0 526.6L230.9 527.1L228.7 527.6L226.5 528.1L224.3 528.6L222.1 529.1L219.9 529.6L217.7 530.0L215.5 530.5L213.3 530.9L211.1 531.3L208.9 531.7L206.7 532.1L204.5 532.5L202.3 532.8L200.1 533.2L197.8 533.5L195.6 533.8L193.4 534.2L191.2 534.5L189.0 534.8L186.7 535.1L184.5 535.4L182.3 535.6L180.1 535.9L177.8 536.2L175.6 536.4L173.4 536.7L171.1 536.9L168.9 537.2L166.7 537.4L164.5 537.6L162.2 537.9L160.0 538.1L157.8 538.3L155.5 538.5L153.3 538.8L151.1 539.0L148.8 539.2L146.6 539.4L144.4 539.7L142.1 539.9L139.9 540.1L137.7 540.3L135.4 540.6L133.2 540.8L131.0 541.0L128.8 541.3L126.5 541.5L124.3 541.8L122.1 542.0L119.8 542.3L117.6 542.6L115.4 542.8L113.2 543.1L110.9 543.4L108.7 543.7L106.5 544.0L104.3 544.3L102.1 544.6L99.8 545.0L97.6 545.3L95.4 545.7L93.2 546.0"/>
<path stroke="#d62728" d="M93.2 547.3L95.4 547.0L97.6 546.7L99.8 546.5L102.0 546.2L104.2 545.9L106.4 545.6L108.6 545.4L110.8 545.1L113.0 544.8L115.2 544.6L117.4 544.3L119.6 544.1L121.8 543.8L124.0 543.6L126.2 543.4L128.4 543.1L130.6 542.9L132.8 542.7L135.0 542.4L137.2 542.2L139.5 542.0L141.7 541.8L143.9 541.6L146.1 541.3L148.3 541.1L150.5 540.9L152.7 540.7L154.9 540.5L157.1 540.3L159.3 540.1L161.5 539.8L163.7 539.6L165.9 539.4L168.1 539.2L170.3 539.0L172.5 538.8L174.7 538.6L177.0 538.4L179.2 538.2L181.4 538.0L183.6 537.8L185.8 537.6L188.0 537.4L190.2 537.2L192.4 537.0L194.6 536.8L196.8 536.6L199.0 536.4L201.2 536.1L203.4 535.9L205.6 535.7L207.8 535.5L210.0 535.3L212.3 535.1L214.5 534.9L216.7 534.7L218.9 534.4L221.1 534.2L223.3 534.0L225.5 533.8L227.7 533.5L229.9 533.3L232.1 533.1L234.3 532.8L236.5 532.6L238.7 532.4L240.9 532.1L243.1 531.9L245.3 531.6L247.5 531.4L249.7 531.1L251.9 530.8L254.1 530.6L256.3 530.3L258.5 530.0L260.7 529.8L262.9 529.5L265.1 529.2L267.3 528.9L269.5 528.6L271.7 528.3L273.9 528.0L276.1 527.7L278.3 527.4L280.5 527.1L282.7 526.8L284.9 526.5L287.1 526.1L289.2 525.8L291.4 525.4L293.6 525.1L295.8 524.8L298.0 524.4L300.2 524.0L302.4 523.7L304.6 523.3L306.7 522.9L308.9 522.5L311.1 522.1L313.3 521.7L315.5 521.3L317.6 520.9L319.8 520.5L322.0 520.0L324.2 519.6L326.3 519.1L328.5 518.7L330.7 518.2L332.8 517.7L335.0 517.2L337.1 516.7L339.3 516.2L341.4 515.7L343.6 515.1L345.7 514.6L347.9 514.0L350.0 513.4L352.2 512.8L354.3 512.2L356.4 511.6L358.5 511.0L360.7 510.3L362.8 509.7L364.9 509.0L367.0 508.3L369.1 507.6L371.2 506.8L373.3 506.1L375.3 505.3L377.4 504.6L379.5 503.8L381.6 503.0L383.6 502.1L385.7 501.3L387.7 500.4L389.7 499.5L391.8 498.6L393.8 497.7L395.8 496.8L397.8 495.8L399.8 494.9L401.8 493.9L403.7 492.9L405.7 491.9L407.7 490.8L409.6 489.8L411.6 488.7L413.5 487.6L415.4 486.5L417.3 485.4L419.2 484.3L421.1 483.1L423.0 482.0L424.9 480.8L426.8 479.6L428.6 478.4L430.5 477.2L432.3 476.0L434.2 474.7L436.0 473.4L437.8 472.2L439.6 470.9L441.4 469.6L443.2 468.3L444.9 466.9L446.7 465.6L448.4 464.2L450.2 462.8L451.9 461.5L453.6 460.1L455.3 458.6L457.0 457.2L458.7 455.8L460.4 454.3L462.0 452.8L463.7 451.4L465.3 449.9L467.0 448.4L468.6 446.8L470.2 445.3L471.8 443.8L473.3 442.2L474.9 440.6L476.4 439.0L478.0 437.5L479.5 435.8L481.0 434.2L482.5 432.6L484.0 431.0L485.5 429.3L486.9 427.6L488.4 426.0L489.8 424.3L491.3 422.6L492.7 420.9L494.1 419.2L495.5 417.4L496.8 415.7L498.2 413.9L499.6 412.2L500.9 410.4L502.2 408.6L503.5 406.9L504.8 405.1L506.1 403.3L507.4 401.5L508.7 399.6L509.9 397.8L511.2 396.0L512.4 394.1L513.6 392.3L514.8 390.4L516.0 388.5L517.2 386.7L518.3 384.8L519.5 382.9L520.6 381.0L521.8 379.1L522.9 377.2L524.0 375.3L525.1 373.3L526.2 371.4L527.3 369.5L528.3 367.5L529.4 365.6L530.4 363.6L531.4 361.6L532.5 359.7L533.5 357.7L534.4 355.7L535.4 353.7L536.4 351.7L537.4 349.7L538.3 347.7L539.3 345.7L540.2 343.7L541.1 341.7L542.0 339.7L542.9 337.6L543.8 335.6L544.7 333.6L545.5 331.5L546.4 329.5L547.2 327.4L548.0 325.4L548.9 323.3L549.7 321.3L550.5 319.2L551.3 317.1L552.0 315.1L552.8 313.0L553.6 310.9L554.3 308.8L555.1 306.7L555.8 304.6L556.5 302.5L557.2 300.4L557.9 298.3L558.6 296.2L559.3 294.1L560.0 292.0L560.7 289.9L561.3 287.8L562.0 285.7L562.6 283.5L563.2 281.4L563.8 279.3L564.5 277.2L565.1 275.0L565.6 272.9L566.2 270.8L566.8 268.6L567.4 266.5L567.9 264.3L568.5 262.2L569.0 260.0L569.6 257.9L570.1 255.7L570.6 253.6L571.1 251.4L571.7 249.3L572.2 247.1L572.7 244.9L573.2 242.8L573.7 240.6L574.1 238.5L574.6 236.3L575.1 234.1L575.6 232.0L576.1 229.8L576.6 227.7L577.0 225.5L577.5 223.3L578.0 221.2L578.5 219.0L578.9 216.8L579.4 214.7L579.9 212.5L580.3 210.3L580.8 208.2L581.3 206.0L581.8 203.8L582.3 201.7L582.7 199.5L583.2 197.4L583.7 195.2L584.2 193.0L584.7 190.9L585.2 188.7L585.7 186.6L586.2 184.4L586.7 182.2L587.2 180.1L587.8 177.9L588.3 175.8L588.8 173.6L589.4 171.5L589.9 169.3L590.5 167.2L591.1 165.0L591.6 162.9L592.2 160.8L592.8 158.6L593.4 156.5L594.0 154.4L594.7 152.3L595.3 150.1L596.0 148.0L596.6 145.9L597.3 143.8L598.0 141.7L598.7 139.6L599.5 137.5L600.2 135.4L601.0 133.3L601.8 131.3L602.6 129.2L603.4 127.2L604.3 125.1L605.2 123.1L606.1 121.1L607.0 119.1L608.0 117.1L609.0 115.1L610.0 113.1L611.0 111.1L612.1 109.2L613.2 107.3L614.3 105.4L615.5 103.5L616.7 101.6L617.9 99.8L619.2 98.0L620.5 96.2L621.8 94.4L623.2 92.7L624.6 90.9L626.0 89.2L627.5 87.6L629.0 85.9L630.5 84.3L632.0 82.7L633.6 81.2L635.2 79.7L636.9 78.2L638.5 76.7L640.2 75.3L641.9 73.9L643.6 72.5L645.4 71.1L647.2 69.8L649.0 68.5L650.8 67.2L652.6 66.0L654.5 64.8L656.4 63.6L658.3 62.5L660.2 61.3L662.1 60.2L664.0 59.2L666.0 58.1L668.0 57.1L670.0 56.1L672.0 55.2L674.0 54.3L676.0 53.4L678.0 52.5L680.1 51.7L682.2 50.9L684.2 50.1L686.3 49.3L688.4 48.6L690.5 47.9L692.6 47.2L694.7 46.5L696.9 45.9L699.0 45.3L701.1 44.7L703.3 44.1L705.4 43.6L707.6 43.1L709.7 42.6L711.9 42.1L714.1 41.6L716.2 41.2L718.4 40.7L720.6 40.3L722.8 39.9L724.9 39.5L727.1 39.2L729.3 38.8L731.5 38.5L733.7 38.1L735.9 37.8L738.1 37.5L740.3 37.2L742.5 36.9L744.7 36.6L746.9 36.4L749.1 36.1L751.3 35.9L753.5 35.6L755.7 35.4L757.9 35.1L760.1 34.9L762.3 34.7L764.5 34.5L766.7 34.2L768.9 34.0L771.1 33.8L773.3 33.6L775.5 33.4L777.7 33.2L779.9 33.0L782.1 32.8L784.3 32.6L786.6 32.4L788.8 32.2L791.0 31.9L793.2 31.7L795.4 31.5L797.6 31.3L799.8 31.0L802.0 30.8L804.2 30.5L806.4 30.3L808.6 30.0L810.8 29.7L813.0 29.4"/>
<path stroke="#d62728" d="M813.0 27.0L810.8 27.2L808.6 27.3L806.4 27.5L804.2 27.7L802.0 27.9L799.7 28.0L797.5 28.2L795.3 28.3L793.1 28.5L790.9 28.7L788.7 28.8L786.5 29.0L784.3 29.1L782.0 29.3L779.8 29.4L777.6 29.6L775.4 29.7L773.2 29.9L771.0 30.1L768.8 30.2L766.6 30.4L764.4 30.5L762.1 30.7L759.9 30.8L757.7 31.0L755.5 31.1L753.3 31.3L751.1 31.5L748.9 31.6L746.7 31.8L744.5 32.0L742.2 32.1L740.0 32.3L737.8 32.5L735.6 32.6L733.4 32.8L731.2 33.0L729.0 33.2L726.8 33.4L724.6 33.6L722.4 33.8L720.1 33.9L717.9 34.2L715.7 34.4L713.5 34.6L711.3 34.8L709.1 35.0L706.9 35.2L704.7 35.4L702.5 35.7L700.3 35.9L698.1 36.2L695.9 36.4L693.7 36.7L691.5 36.9L689.3 37.2L687.1 37.5L684.9 37.7L682.7 38.0L680.5 38.3L678.3 38.6L676.1 38.9L673.9 39.2L671.7 39.5L669.5 39.9L667.3 40.2L665.1 40.5L662.9 40.9L660.7 41.2L658.5 41.6L656.4 41.9L654.2 42.3L652.0 42.7L649.8 43.1L647.6 43.5L645.4 43.8L643.3 44.2L641.1 44.6L638.9 45.0L636.7 45.4L634.5 45.8L632.4 46.2L630.2 46.7L628.0 47.1L625.8 47.5L623.6 47.9L621.5 48.3L619.3 48.7L617.1 49.1L614.9 49.5L612.7 49.9L610.6 50.3L608.4 50.8L606.2 51.2L604.0 51.6L601.8 52.0L599.7 52.4L597.5 52.8L595.3 53.1L593.1 53.5L590.9 53.9L588.8 54.3L586.6 54.7L584.4 55.1L582.2 55.5L580.0 55.9L577.8 56.3L575.7 56.7L573.5 57.1L571.3 57.5L569.1 58.0L567.0 58.4L564.8 58.8L562.6 59.3L560.4 59.7L558.3 60.2L556.1 60.7L553.9 61.1L551.8 61.6L549.6 62.1L547.5 62.7L545.3 63.2L543.2 63.7L541.0 64.3L538.9 64.8L536.7 65.4L534.6 66.0L532.5 66.6L530.3 67.3L528.2 67.9L526.1 68.6L524.0 69.3L521.9 70.0L519.8 70.7L517.7 71.5L515.7 72.3L513.6 73.1L511.5 73.9L509.5 74.7L507.4 75.6L505.4 76.5L503.4 77.4L501.4 78.4L499.4 79.3L497.4 80.3L495.4 81.3L493.5 82.4L491.6 83.5L489.6 84.6L487.7 85.7L485.8 86.9L484.0 88.1L482.1 89.3L480.3 90.6L478.5 91.8L476.7 93.1L474.9 94.4L473.1 95.8L471.4 97.1L469.6 98.5L467.9 99.9L466.2 101.3L464.5 102.7L462.8 104.1L461.1 105.6L459.4 107.1L457.8 108.5L456.1 110.0L454.5 111.5L452.9 113.0L451.2 114.5L449.6 116.0L448.0 117.6L446.4 119.1L444.8 120.7L443.3 122.2L441.7 123.8L440.1 125.4L438.6 126.9L437.0 128.5L435.5 130.1L434.0 131.7L432.5 133.3L430.9 135.0L429.4 136.6L427.9 138.2L426.5 139.9L425.0 141.5L423.5 143.2L422.1 144.9L420.6 146.6L419.2 148.2L417.7 149.9L416.3 151.6L414.9 153.3L413.5 155.1L412.1 156.8L410.7 158.5L409.3 160.2L408.0 162.0L406.6 163.7L405.3 165.5L403.9 167.3L402.6 169.0L401.2 170.8L399.9 172.6L398.6 174.4L397.3 176.2L396.0 178.0L394.7 179.8L393.5 181.6L392.2 183.4L390.9 185.2L389.7 187.1L388.4 188.9L387.2 190.7L386.0 192.6L384.8 194.4L383.6 196.3L382.4 198.2L381.2 200.1L380.0 201.9L378.9 203.8L377.7 205.7L376.6 207.6L375.4 209.5L374.3 211.4L373.2 213.4L372.1 215.3L371.0 217.2L370.0 219.2L368.9 221.1L367.9 223.1L366.9 225.1L365.9 227.0L364.9 229.0L363.9 231.0L362.9 233.0L362.0 235.0L361.1 237.0L360.2 239.1L359.3 241.1L358.4 243.1L357.5 245.2L356.7 247.2L355.9 249.3L355.1 251.3L354.3 253.4L353.5 255.5L352.8 257.6L352.1 259.7L351.3 261.8L350.6 263.9L349.9 266.0L349.2 268.1L348.6 270.2L347.9 272.3L347.3 274.4L346.6 276.6L346.0 278.7L345.4 280.8L344.8 283.0L344.2 285.1L343.6 287.2L343.0 289.4L342.4 291.5L341.9 293.7L341.3 295.8L340.7 297.9L340.2 300.1L339.6 302.2L339.1 304.4L338.6 306.5L338.0 308.7L337.5 310.8L336.9 313.0L336.4 315.1L335.9 317.3L335.4 319.5L334.9 321.6L334.3 323.8L333.8 325.9L333.3 328.1L332.8 330.2L332.3 332.4L331.8 334.5L331.3 336.7L330.7 338.9L330.2 341.0L329.7 343.2L329.2 345.3L328.7 347.5L328.2 349.7L327.7 351.8L327.2 354.0L326.7 356.1L326.2 358.3L325.7 360.4L325.1 362.6L324.6 364.8L324.1 366.9L323.6 369.1L323.1 371.2L322.6 373.4L322.0 375.5L321.5 377.7L321.0 379.8L320.4 382.0L319.9 384.1L319.3 386.3L318.8 388.4L318.3 390.6L317.7 392.7L317.1 394.9L316.6 397.0L316.0 399.2L315.4 401.3L314.8 403.4L314.3 405.6L313.7 407.7L313.1 409.9L312.5 412.0L311.8 414.1L311.2 416.2L310.6 418.4L310.0 420.5L309.3 422.6L308.7 424.7L308.0 426.9L307.3 429.0L306.6 431.1L305.9 433.2L305.2 435.3L304.5 437.4L303.7 439.4L302.9 441.5L302.2 443.6L301.3 445.7L300.5 447.7L299.6 449.8L298.8 451.8L297.9 453.8L296.9 455.8L296.0 457.8L295.0 459.8L294.0 461.8L292.9 463.7L291.9 465.7L290.8 467.6L289.7 469.5L288.5 471.4L287.3 473.3L286.1 475.2L284.9 477.0L283.6 478.8L282.3 480.6L281.0 482.4L279.6 484.1L278.2 485.8L276.8 487.6L275.3 489.2L273.9 490.9L272.4 492.5L270.8 494.1L269.3 495.7L267.7 497.2L266.0 498.7L264.4 500.2L262.7 501.7L261.0 503.1L259.3 504.5L257.5 505.8L255.7 507.1L253.9 508.4L252.0 509.6L250.1 510.7L248.2 511.9L246.3 513.0L244.3 514.0L242.4 515.0L240.4 516.0L238.4 516.9L236.3 517.8L234.3 518.6L232.2 519.5L230.2 520.3L228.1 521.0L226.0 521.8L223.9 522.5L221.8 523.2L219.7 523.8L217.5 524.5L215.4 525.1L213.3 525.7L211.2 526.3L209.0 526.9L206.9 527.5L204.7 528.1L202.6 528.7L200.5 529.2L198.3 529.8L196.2 530.3L194.0 530.8L191.8 531.3L189.7 531.8L187.5 532.3L185.4 532.8L183.2 533.3L181.0 533.8L178.9 534.2L176.7 534.7L174.5 535.1L172.3 535.5L170.2 535.9L168.0 536.4L165.8 536.8L163.6 537.2L161.4 537.5L159.2 537.9L157.1 538.3L154.9 538.7L152.7 539.0L150.5 539.4L148.3 539.7L146.1 540.0L143.9 540.3L141.7 540.7L139.5 541.0L137.3 541.3L135.1 541.5L132.9 541.8L130.7 542.1L128.5 542.4L126.3 542.6L124.1 542.9L121.9 543.1L119.7 543.4L117.5 543.6L115.3 543.8L113.1 544.0L110.9 544.3L108.7 544.5L106.5 544.7L104.3 544.8L102.1 545.0L99.8 545.2L97.6 545.4L95.4 545.5L93.2 545.7"/>
<path stroke="#9467bd" d="M93.2 550.4L95.5 550.1L97.8 549.8L100.1 549.6L102.4 549.3L104.7 549.0L107.0 548.8L109.3 548.5L111.6 548.2L113.9 548.0L116.2 547.8L118.5 547.5L120.8 547.3L123.1 547.1L125.4 546.9L127.7 546.6L130.0 546.4L132.3 546.2L134.6 546.0L136.9 545.8L139.2 545.6L141.5 545.4L143.8 545.3L146.1 545.1L148.4 544.9L150.7 544.7L153.0 544.5L155.3 544.4L157.6 544.2L159.9 544.0L162.2 543.9L164.5 543.7L166.8 543.5L169.1 543.4L171.4 543.2L173.7 543.0L176.0 542.9L178.3 542.7L180.6 542.5L182.9 542.4L185.2 542.2L187.5 542.1L189.9 541.9L192.2 541.7L194.5 541.6L196.8 541.4L199.1 541.2L201.4 541.1L203.7 540.9L206.0 540.7L208.3 540.6L210.6 540.4L212.9 540.2L215.2 540.0L217.5 539.9L219.8 539.7L222.1 539.5L224.4 539.3L226.7 539.1L229.0 538.9L231.3 538.7L233.6 538.5L235.9 538.3L238.2 538.1L240.5 537.9L242.8 537.7L245.1 537.5L247.4 537.2L249.7 537.0L252.0 536.8L254.3 536.5L256.6 536.3L258.9 536.0L261.2 535.8L263.5 535.5L265.8 535.2L268.1 535.0L270.4 534.7L272.7 534.4L275.0 534.1L277.3 533.8L279.5 533.5L281.8 533.2L284.1 532.9L286.4 532.5L288.7 532.2L291.0 531.8L293.3 531.5L295.5 531.1L297.8 530.7L300.1 530.4L302.4 530.0L304.7 529.6L306.9 529.2L309.2 528.8L311.5 528.3L313.7 527.9L316.0 527.4L318.3 527.0L320.5 526.5L322.8 526.0L325.0 525.6L327.3 525.1L329.6 524.5L331.8 524.0L334.1 523.5L336.3 523.0L338.5 522.4L340.8 521.8L343.0 521.3L345.3 520.7L347.5 520.1L349.7 519.4L351.9 518.8L354.2 518.2L356.4 517.5L358.6 516.8L360.8 516.2L363.0 515.5L365.2 514.8L367.4 514.0L369.6 513.3L371.8 512.6L373.9 511.8L376.1 511.0L378.3 510.2L380.5 509.4L382.6 508.6L384.8 507.8L386.9 506.9L389.1 506.1L391.2 505.2L393.3 504.3L395.4 503.4L397.6 502.4L399.7 501.5L401.8 500.5L403.8 499.5L405.9 498.5L408.0 497.5L410.0 496.4L412.1 495.3L414.1 494.2L416.1 493.1L418.1 491.9L420.1 490.8L422.1 489.5L424.0 488.3L426.0 487.1L427.9 485.8L429.8 484.4L431.7 483.1L433.5 481.7L435.4 480.3L437.2 478.9L439.0 477.4L440.7 475.9L442.4 474.4L444.2 472.8L445.8 471.3L447.5 469.6L449.1 468.0L450.7 466.3L452.3 464.6L453.8 462.9L455.3 461.2L456.8 459.4L458.2 457.6L459.6 455.7L461.0 453.9L462.3 452.0L463.6 450.1L464.9 448.1L466.1 446.2L467.3 444.2L468.4 442.2L469.5 440.1L470.6 438.1L471.6 436.0L472.6 433.9L473.6 431.8L474.5 429.7L475.4 427.6L476.3 425.5L477.1 423.3L478.0 421.2L478.8 419.0L479.5 416.8L480.3 414.6L481.0 412.4L481.7 410.2L482.4 408.0L483.0 405.8L483.7 403.6L484.3 401.4L484.9 399.1L485.5 396.9L486.1 394.7L486.7 392.4L487.2 390.2L487.8 387.9L488.3 385.7L488.8 383.4L489.4 381.2L489.9 378.9L490.4 376.7L490.9 374.4L491.4 372.2L491.9 369.9L492.4 367.7L492.9 365.4L493.4 363.2L493.9 360.9L494.4 358.6L494.9 356.4L495.4 354.1L495.9 351.9L496.4 349.6L496.9 347.4L497.4 345.1L498.0 342.9L498.5 340.6L499.1 338.4L499.6 336.1L500.1 333.9L500.7 331.6L501.2 329.4L501.8 327.2L502.4 324.9L502.9 322.7L503.5 320.4L504.0 318.2L504.6 316.0L505.2 313.7L505.7 311.5L506.3 309.2L506.8 307.0L507.4 304.8L508.0 302.5L508.5 300.3L509.1 298.0L509.6 295.8L510.2 293.5L510.7 291.3L511.3 289.1L511.8 286.8L512.4 284.6L512.9 282.3L513.4 280.1L514.0 277.8L514.5 275.6L515.0 273.3L515.5 271.1L516.0 268.8L516.5 266.6L517.0 264.3L517.5 262.0L518.0 259.8L518.5 257.5L519.0 255.3L519.4 253.0L519.9 250.7L520.3 248.5L520.8 246.2L521.2 243.9L521.6 241.7L522.1 239.4L522.5 237.1L522.9 234.8L523.3 232.6L523.7 230.3L524.2 228.0L524.6 225.8L525.0 223.5L525.4 221.2L525.8 218.9L526.2 216.7L526.6 214.4L527.0 212.1L527.4 209.8L527.8 207.6L528.3 205.3L528.7 203.0L529.1 200.8L529.5 198.5L529.9 196.2L530.4 193.9L530.8 191.7L531.2 189.4L531.7 187.1L532.1 184.9L532.6 182.6L533.1 180.3L533.5 178.1L534.0 175.8L534.5 173.6L535.0 171.3L535.5 169.0L536.0 166.8L536.5 164.5L537.0 162.3L537.6 160.0L538.1 157.8L538.7 155.6L539.2 153.3L539.8 151.1L540.4 148.8L541.0 146.6L541.6 144.4L542.2 142.2L542.9 139.9L543.5 137.7L544.2 135.5L544.9 133.3L545.6 131.1L546.3 128.9L547.0 126.7L547.8 124.5L548.5 122.4L549.3 120.2L550.1 118.0L550.9 115.9L551.8 113.7L552.7 111.6L553.6 109.4L554.5 107.3L555.5 105.2L556.5 103.1L557.5 101.1L558.5 99.0L559.6 97.0L560.8 95.0L561.9 93.0L563.1 91.0L564.4 89.0L565.6 87.1L567.0 85.2L568.3 83.4L569.7 81.5L571.2 79.7L572.7 78.0L574.2 76.2L575.8 74.6L577.4 72.9L579.1 71.3L580.8 69.8L582.6 68.3L584.4 66.8L586.2 65.4L588.0 64.0L589.9 62.7L591.9 61.4L593.8 60.2L595.8 59.0L597.8 57.8L599.8 56.7L601.8 55.6L603.9 54.6L606.0 53.6L608.1 52.6L610.2 51.7L612.3 50.7L614.4 49.9L616.6 49.0L618.8 48.2L620.9 47.4L623.1 46.7L625.3 45.9L627.5 45.2L629.7 44.5L631.9 43.9L634.1 43.2L636.4 42.6L638.6 42.0L640.8 41.5L643.1 40.9L645.3 40.4L647.6 39.9L649.8 39.4L652.1 38.9L654.4 38.4L656.6 38.0L658.9 37.6L661.2 37.2L663.5 36.8L665.7 36.4L668.0 36.1L670.3 35.7L672.6 35.4L674.9 35.1L677.2 34.8L679.5 34.5L681.8 34.2L684.0 33.9L686.3 33.7L688.6 33.4L690.9 33.2L693.2 33.0L695.5 32.8L697.8 32.6L700.1 32.4L702.4 32.2L704.7 32.0L707.1 31.8L709.4 31.7L711.7 31.5L714.0 31.4L716.3 31.2L718.6 31.1L720.9 31.0L723.2 30.8L725.5 30.7L727.8 30.6L730.1 30.4L732.4 30.3L734.7 30.2L737.0 30.1L739.3 30.0L741.6 29.9L744.0 29.8L746.3 29.6L748.6 29.5L750.9 29.4L753.2 29.3L755.5 29.2L757.8 29.0L760.1 28.9L762.4 28.8L764.7 28.6L767.0 28.5L769.3 28.4L771.6 28.2L773.9 28.1L776.2 27.9L778.5 27.7L780.9 27.5L783.2 27.3L785.5 27.1L787.8 26.9L790.1 26.7L792.4 26.5L794.7 26.2L796.9 26.0L799.2 25.7L801.5 25.5L803.8 25.2L806.1 24.9L808.4 24.5L810.7 24.2L813.0 23.9"/>
<path stroke="#9467bd" d="M812.9 23.9L810.6 24.0L808.3 24.1L806.0 24.2L803.7 24.3L801.4 24.5L799.1 24.6L796.8 24.7L794.5 24.8L792.2 25.0L789.9 25.1L787.6 25.2L785.3 25.4L782.9 25.5L780.6 25.7L778.3 25.8L776.0 26.0L773.7 26.1L771.4 26.3L769.1 26.5L766.8 26.6L764.5 26.8L762.2 27.0L759.9 27.2L757.6 27.3L755.3 27.5L753.0 27.7L750.7 27.9L748.4 28.1L746.1 28.3L743.8 28.5L741.5 28.7L739.2 28.9L736.9 29.1L734.6 29.3L732.3 29.5L730.0 29.7L727.7 30.0L725.4 30.2L723.1 30.4L720.8 30.6L718.5 30.9L716.2 31.1L713.9 31.3L711.6 31.6L709.3 31.8L707.0 32.0L704.7 32.3L702.4 32.5L700.1 32.8L697.8 33.0L695.5 33.3L693.2 33.6L690.9 33.8L688.6 34.1L686.3 34.4L684.0 34.6L681.7 34.9L679.4 35.2L677.1 35.5L674.8 35.7L672.6 36.0L670.3 36.3L668.0 36.6L665.7 36.9L663.4 37.2L661.1 37.5L658.8 37.8L656.5 38.1L654.2 38.4L651.9 38.7L649.6 39.0L647.4 39.3L645.1 39.6L642.8 40.0L640.5 40.3L638.2 40.6L635.9 40.9L633.6 41.3L631.3 41.6L629.1 41.9L626.8 42.3L624.5 42.6L622.2 42.9L619.9 43.3L617.6 43.6L615.3 44.0L613.1 44.3L610.8 44.7L608.5 45.0L606.2 45.4L603.9 45.8L601.6 46.1L599.4 46.5L597.1 46.9L594.8 47.2L592.5 47.6L590.2 48.0L588.0 48.4L585.7 48.7L583.4 49.1L581.1 49.5L578.9 49.9L576.6 50.3L574.3 50.8L572.0 51.2L569.8 51.6L567.5 52.1L565.2 52.5L563.0 53.0L560.7 53.5L558.5 54.0L556.2 54.5L554.0 55.0L551.7 55.5L549.5 56.1L547.2 56.6L545.0 57.2L542.7 57.8L540.5 58.4L538.3 59.0L536.1 59.7L533.9 60.3L531.7 61.0L529.5 61.7L527.3 62.5L525.1 63.2L522.9 64.0L520.7 64.8L518.6 65.6L516.4 66.4L514.3 67.3L512.2 68.2L510.0 69.1L507.9 70.1L505.8 71.0L503.7 72.0L501.7 73.0L499.6 74.1L497.6 75.1L495.5 76.2L493.5 77.4L491.5 78.5L489.5 79.7L487.5 80.9L485.6 82.1L483.6 83.4L481.7 84.7L479.8 86.0L477.9 87.3L476.0 88.6L474.2 90.0L472.4 91.4L470.5 92.9L468.7 94.3L467.0 95.8L465.2 97.3L463.5 98.8L461.8 100.4L460.1 101.9L458.4 103.5L456.8 105.2L455.2 106.8L453.6 108.5L452.0 110.2L450.5 111.9L449.0 113.7L447.5 115.5L446.1 117.3L444.6 119.1L443.3 121.0L441.9 122.9L440.6 124.8L439.4 126.7L438.2 128.7L437.0 130.7L435.8 132.7L434.7 134.7L433.7 136.7L432.7 138.8L431.7 140.9L430.7 143.0L429.8 145.1L428.9 147.3L428.0 149.4L427.2 151.6L426.4 153.7L425.6 155.9L424.8 158.1L424.1 160.3L423.4 162.5L422.7 164.6L422.0 166.9L421.3 169.1L420.6 171.3L419.9 173.5L419.3 175.7L418.6 177.9L418.0 180.1L417.4 182.4L416.8 184.6L416.2 186.8L415.6 189.1L415.0 191.3L414.4 193.5L413.9 195.8L413.3 198.0L412.7 200.3L412.2 202.5L411.7 204.8L411.1 207.0L410.6 209.3L410.1 211.5L409.6 213.8L409.1 216.0L408.6 218.3L408.1 220.5L407.6 222.8L407.1 225.0L406.6 227.3L406.2 229.6L405.7 231.8L405.2 234.1L404.8 236.3L404.3 238.6L403.8 240.9L403.4 243.1L402.9 245.4L402.4 247.7L402.0 249.9L401.5 252.2L401.1 254.5L400.6 256.7L400.2 259.0L399.7 261.3L399.3 263.5L398.8 265.8L398.3 268.1L397.9 270.3L397.4 272.6L397.0 274.8L396.5 277.1L396.0 279.4L395.6 281.6L395.1 283.9L394.6 286.2L394.1 288.4L393.7 290.7L393.2 292.9L392.7 295.2L392.2 297.5L391.7 299.7L391.3 302.0L390.8 304.2L390.3 306.5L389.8 308.8L389.3 311.0L388.8 313.3L388.3 315.5L387.8 317.8L387.4 320.0L386.9 322.3L386.4 324.6L385.9 326.8L385.4 329.1L384.9 331.3L384.4 333.6L383.9 335.8L383.4 338.1L382.9 340.4L382.4 342.6L381.9 344.9L381.4 347.1L380.9 349.4L380.4 351.6L379.9 353.9L379.5 356.2L379.0 358.4L378.5 360.7L378.0 362.9L377.5 365.2L377.0 367.4L376.5 369.7L376.0 372.0L375.5 374.2L375.0 376.5L374.6 378.7L374.1 381.0L373.6 383.3L373.1 385.5L372.6 387.8L372.2 390.0L371.7 392.3L371.2 394.6L370.7 396.8L370.3 399.1L369.8 401.4L369.3 403.6L368.9 405.9L368.4 408.1L367.9 410.4L367.5 412.7L367.0 414.9L366.5 417.2L366.0 419.4L365.5 421.7L365.0 424.0L364.5 426.2L364.0 428.5L363.4 430.7L362.9 432.9L362.3 435.2L361.7 437.4L361.1 439.6L360.4 441.9L359.8 444.1L359.1 446.3L358.4 448.5L357.7 450.7L356.9 452.9L356.1 455.0L355.3 457.2L354.5 459.4L353.6 461.5L352.7 463.6L351.8 465.7L350.9 467.9L349.9 469.9L348.9 472.0L347.8 474.1L346.7 476.1L345.6 478.1L344.5 480.1L343.3 482.1L342.0 484.1L340.8 486.0L339.5 487.9L338.2 489.8L336.8 491.7L335.4 493.5L333.9 495.3L332.4 497.1L330.9 498.8L329.3 500.5L327.6 502.1L326.0 503.7L324.2 505.2L322.5 506.7L320.6 508.1L318.8 509.5L316.9 510.8L314.9 512.0L312.9 513.2L310.9 514.3L308.9 515.4L306.8 516.5L304.7 517.5L302.6 518.4L300.5 519.3L298.4 520.2L296.2 521.0L294.0 521.8L291.8 522.5L289.7 523.3L287.5 524.0L285.2 524.7L283.0 525.3L280.8 525.9L278.6 526.6L276.4 527.2L274.1 527.8L271.9 528.3L269.6 528.9L267.4 529.4L265.1 530.0L262.9 530.5L260.6 531.0L258.4 531.5L256.1 532.0L253.9 532.4L251.6 532.9L249.3 533.3L247.1 533.8L244.8 534.2L242.5 534.6L240.2 535.0L238.0 535.4L235.7 535.8L233.4 536.2L231.1 536.5L228.8 536.9L226.6 537.2L224.3 537.5L222.0 537.9L219.7 538.2L217.4 538.5L215.1 538.8L212.8 539.1L210.5 539.4L208.2 539.6L205.9 539.9L203.6 540.2L201.3 540.4L199.0 540.7L196.7 540.9L194.5 541.2L192.2 541.4L189.9 541.6L187.6 541.9L185.3 542.1L183.0 542.3L180.7 542.5L178.4 542.7L176.1 542.9L173.8 543.1L171.4 543.3L169.1 543.5L166.8 543.7L164.5 543.9L162.2 544.1L159.9 544.3L157.6 544.5L155.3 544.7L153.0 544.9L150.7 545.1L148.4 545.3L146.1 545.4L143.8 545.6L141.5 545.8L139.2 546.0L136.9 546.2L134.6 546.4L132.3 546.6L130.0 546.8L127.7 547.0L125.4 547.2L123.1 547.4L120.8 547.6L118.5 547.8L116.2 548.0L113.9 548.2L111.6 548.4L109.3 548.7L107.0 548.9L104.7 549.1L102.4 549.4L100.1 549.6L97.8 549.9L95.5 550.1L93.2 550.4"/>
</g>
<path d="M93.2 287.2H813.3M453.1 11.05V562.9" stroke="#000" stroke-width="1.5" fill="none"/>
<path d="M93.2 562.9v-5.5M93.2 11.05v5.5M183.2 562.9v-5.5M183.2 11.05v5.5M273.2 562.9v-5.5M273.2 11.05v5.5M363.2 562.9v-5.5M363.2 11.05v5.5M453.2 562.9v-5.5M453.2 11.05v5.5M543.2 562.9v-5.5M543.2 11.05v5.5M633.2 562.9v-5.5M633.2 11.05v5.5M723.2 562.9v-5.5M723.2 11.05v5.5M813.2 562.9v-5.5M813.2 11.05v5.5M93.2 562.9h5.5M813.3 562.9h-5.5M93.2 424.9h5.5M813.3 424.9h-5.5M93.2 287.0h5.5M813.3 287.0h-5.5M93.2 149.0h5.5M813.3 149.0h-5.5M93.2 11.0h5.5M813.3 11.0h-5.5" stroke="#000" stroke-width="0.9" fill="none"/>
<rect x="93.2" y="11.05" width="720.0999999999999" height="551.85" fill="none" stroke="#000" stroke-width="1.8"/>
<g font-family="'DejaVu Sans','Liberation Sans',sans-serif" font-size="24.5" fill="#000">
<g text-anchor="middle">
<text x="94.7" y="587.8">−2000</text>
<text x="184.7" y="587.8">−1500</text>
<text x="274.7" y="587.8">−1000</text>
<text x="364.7" y="587.8">−500</text>
<text x="454.7" y="587.8">0</text>
<text x="544.7" y="587.8">500</text>
<text x="634.7" y="587.8">1000</text>
<text x="724.7" y="587.8">1500</text>
<text x="814.7" y="587.8">2000</text>
</g><g text-anchor="end">
<text x="91.0" y="569.5">−1.0</text>
<text x="91.0" y="431.5">−0.5</text>
<text x="91.0" y="293.6">0.0</text>
<text x="91.0" y="155.6">0.5</text>
<text x="91.0" y="17.6">1.0</text>
</g>
<text x="454.2" y="618.3" text-anchor="middle" font-size="24.4">Magnetic field [Oe]</text>
<text transform="translate(17.9 288.7) rotate(-90)" text-anchor="middle" font-size="24.4">M / M<tspan font-size="14.5" dy="6.5" dx="0.5" font-style="italic">s</tspan></text>
<text x="723.4" y="104.9" font-size="61">(a)</text>
</g>
<rect x="102.1" y="20.8" width="258.4" height="151.6" fill="#fff" stroke="#000" stroke-width="1.5"/>
<g font-family="'DejaVu Sans','Liberation Sans',sans-serif" font-size="18" fill="#000">
<path d="M112.8 37.5H141.8" stroke="#1f77b4" stroke-width="3"/>
<text x="160.6" y="44.2">J=0 mA/cm<tspan font-size="11.6" dy="-7">2</tspan></text>
<path d="M112.8 67.1H141.8" stroke="#ff7f0e" stroke-width="3"/>
<text y="73.8"><tspan x="160.6">J=1.02</tspan><tspan x="224.7">·</tspan><tspan x="230.6">10</tspan><tspan font-size="11.6" dy="-7" x="253.0">8</tspan><tspan dy="7" x="270.7">mA/cm</tspan><tspan font-size="11.6" dy="-7" dx="0.6">2</tspan></text>
<path d="M112.8 96.4H141.8" stroke="#2ca02c" stroke-width="3"/>
<text y="103.1"><tspan x="160.6">J=1.31</tspan><tspan x="224.7">·</tspan><tspan x="230.6">10</tspan><tspan font-size="11.6" dy="-7" x="253.0">8</tspan><tspan dy="7" x="270.7">mA/cm</tspan><tspan font-size="11.6" dy="-7" dx="0.6">2</tspan></text>
<path d="M112.8 125.8H141.8" stroke="#d62728" stroke-width="3"/>
<text y="132.5"><tspan x="160.6">J=1.35</tspan><tspan x="224.7">·</tspan><tspan x="236.5">10</tspan><tspan font-size="11.6" dy="-7" x="258.9">8</tspan><tspan dy="7" x="276.6">mA/cm</tspan><tspan font-size="11.6" dy="-7" dx="0.6">2</tspan></text>
<path d="M112.8 154.9H141.8" stroke="#9467bd" stroke-width="3"/>
<text y="161.6"><tspan x="160.6">J=1.63</tspan><tspan x="224.7">·</tspan><tspan x="230.6">10</tspan><tspan font-size="11.6" dy="-7" x="253.0">8</tspan><tspan dy="7" x="270.7">mA/cm</tspan><tspan font-size="11.6" dy="-7" dx="0.6">2</tspan></text>
</g>
<g id="inset">
<defs><clipPath id="clipI"><rect x="557.0" y="348.4" width="242.29999999999995" height="187.70000000000005"/></clipPath></defs>
<g clip-path="url(#clipI)" fill="none">
<path stroke="#d62728" stroke-width="1.3" stroke-linejoin="round" d="M557.0 528.7L558.0 528.2L559.1 528.0L560.1 527.6L561.2 527.5L562.2 527.0L563.3 526.8L564.3 526.4L565.4 526.2L566.4 525.7L567.5 525.4L568.5 525.0L569.6 524.7L570.6 524.2L571.7 524.0L572.7 523.5L573.8 523.0L574.8 522.3L575.9 521.7L576.9 521.0L578.0 520.5L579.0 519.7L580.1 519.2L581.1 518.5L582.2 518.4L583.2 518.1L584.3 518.0L585.3 517.8L586.4 517.8L587.4 517.4L588.5 517.5L589.5 515.5L590.6 511.7L591.6 507.6L592.7 503.8L593.7 499.5L594.8 495.3L595.8 490.8L596.9 486.6L597.9 488.6L599.0 493.7L600.0 487.7L601.1 485.0L602.1 479.3L603.2 476.8L604.2 470.3L605.3 468.4L606.3 462.4L607.4 459.2L608.4 452.5L609.5 449.1L610.5 442.5L611.6 438.7L612.6 431.8L613.7 426.2L614.7 416.1L615.8 409.8L616.8 398.3L617.9 391.7L618.9 381.8L620.0 376.8L621.0 368.9L622.1 367.1L623.1 369.3L624.2 374.7L625.2 367.4L626.3 374.1L627.3 381.6L628.4 392.1L629.4 398.1L630.5 408.2L631.5 412.4L632.6 421.3L633.6 425.6L634.7 434.2L635.7 437.3L636.8 443.0L637.8 446.5L638.9 452.0L639.9 455.0L641.0 460.3L642.0 462.1L643.1 467.3L644.1 468.6L645.2 475.0L646.2 475.0L647.3 480.4L648.3 480.2L649.4 484.8L650.4 482.5L651.5 487.2L652.5 485.7L653.6 490.0L654.6 487.3L655.7 491.1L656.7 488.4L657.8 492.5L658.8 490.1L659.9 492.7L660.9 490.6L662.0 492.4L663.0 490.1L664.1 493.5L665.1 489.7L666.2 493.4L667.2 490.1L668.3 492.1L669.3 489.9L670.4 493.0L671.4 490.0L672.5 493.4L673.5 491.6L674.6 495.1L675.6 494.8L676.7 497.8L677.7 496.6L678.8 501.4L679.8 500.4L680.9 503.8L681.9 503.3L683.0 506.2L684.0 504.7L685.1 508.9L686.1 507.2L687.2 510.5L688.2 509.0L689.3 513.4L690.3 511.1L691.4 513.8L692.4 513.2L693.5 515.4L694.5 513.5L695.6 517.5L696.6 515.0L697.7 518.3L698.7 517.1L699.8 520.2L700.8 517.2L701.9 521.2L702.9 519.7L704.0 522.9L705.0 519.9L706.1 523.3L707.1 520.8L708.2 523.8L709.2 520.3L710.3 524.5L711.3 521.6L712.4 525.0L713.4 522.5L714.5 524.9L715.5 522.6L716.6 526.3L717.6 523.5L718.7 526.8L719.7 523.0L720.8 527.5L721.8 524.3L722.9 526.8L723.9 525.0L725.0 528.4L726.0 524.4L727.1 528.5L728.1 525.4L729.2 528.1L730.2 525.0L731.3 529.2L732.3 526.4L733.4 528.4L734.4 525.4L735.5 529.6L736.5 526.4L737.6 528.9L738.6 526.5L739.7 529.5L740.7 527.2L741.8 530.2L742.8 526.6L743.9 530.2L744.9 527.2L746.0 530.6L747.0 526.5L748.1 529.7L749.1 526.3L750.2 530.4L751.2 526.6L752.3 529.4L753.3 527.9L754.4 530.7L755.4 527.6L756.5 530.4L757.6 533.8L760.0 532.6L765.0 531.6L772.0 530.7L780.0 530.4L790.0 531.2L799.3 532.0"/>
<path stroke="#1f77b4" stroke-width="0.9" stroke-dasharray="none" d="M557.0 535.9L590.0 535.9L592.0 535.0L600.0 535.6L670.0 535.5L674.5 535.0L676.2 530.0L677.3 470.0L677.9 365.2L678.6 470.0L679.7 530.0L681.5 535.0L690.0 535.5L764.0 535.6L766.0 535.0L768.0 535.9L799.3 535.9"/>
<path stroke="#1f77b4" stroke-width="1.1" stroke-dasharray="1.6 1.6" d="M590 535.3H765"/>
</g>
<path d="M557.0 536.1v-2M557.0 348.4v2M597.4 536.1v-2M597.4 348.4v2M637.8 536.1v-2M637.8 348.4v2M678.1 536.1v-2M678.1 348.4v2M718.5 536.1v-2M718.5 348.4v2M758.9 536.1v-2M758.9 348.4v2M799.3 536.1v-2M799.3 348.4v2M557.0 536.1h2M799.3 536.1h-2M557.0 501.9h2M799.3 501.9h-2M557.0 467.7h2M799.3 467.7h-2M557.0 433.6h2M799.3 433.6h-2M557.0 399.4h2M799.3 399.4h-2M557.0 365.2h2M799.3 365.2h-2" stroke="#333" stroke-width="0.5" fill="none"/>
<rect x="557.0" y="348.4" width="242.29999999999995" height="187.70000000000005" fill="none" stroke="#444" stroke-width="0.7"/>
<g font-family="'DejaVu Sans','Liberation Sans',sans-serif" font-size="6.0" fill="#000" stroke="#000" stroke-width="0.25">
<g text-anchor="middle">
<text x="557.0" y="543.4">−1500</text>
<text x="597.4" y="543.4">−1000</text>
<text x="637.8" y="543.4">−500</text>
<text x="678.1" y="543.4">0</text>
<text x="718.5" y="543.4">500</text>
<text x="758.9" y="543.4">1000</text>
<text x="799.3" y="543.4">1500</text>
</g><g text-anchor="end">
<text x="554.6" y="538.1">0.0</text>
<text x="554.6" y="503.9">0.2</text>
<text x="554.6" y="469.7">0.4</text>
<text x="554.6" y="435.6">0.6</text>
<text x="554.6" y="401.4">0.8</text>
<text x="554.6" y="367.2">1.0</text>
</g>
<text x="678.4" y="553.7" text-anchor="middle" font-size="8.6">Magnetic field [Oe]</text>
<text transform="translate(542.9 446) rotate(-90)" text-anchor="middle" font-size="9.5">derivative M/Ms [arb. u.]</text>
</g>
<rect x="682.2" y="352.4" width="113.6" height="27.5" fill="#fff" stroke="#000" stroke-width="0.8"/>
<path d="M687.3 359.3H699.7" stroke="#1f77b4" stroke-width="1"/><path d="M687.3 372.1H699.7" stroke="#d62728" stroke-width="1"/>
<g font-family="'DejaVu Sans','Liberation Sans',sans-serif" font-size="7.8" fill="#000" stroke="#000" stroke-width="0.18">
<text x="707.4" y="362.3">J=0 mA/cm<tspan font-size="5.4" dy="-2.6">2</tspan></text>
<text y="375.1"><tspan x="707.4">J=1.35</tspan><tspan x="737.5">·</tspan><tspan x="742.8">10</tspan><tspan font-size="5.4" dy="-2.6" x="752.3">8</tspan><tspan dy="2.6" x="760.2">mA/cm</tspan><tspan font-size="5.4" dy="-2.6">2</tspan></text>
</g>
<path d="M529.6 370.9L605.0 385.8M589.1 378.4L605.4 385.9L587.6 388.9" fill="none" stroke="#d62728" stroke-width="2.2" stroke-linecap="round" stroke-linejoin="round"/>
</g>
</g>
<g id="panelB">
<path d="M957.0 22.0V574.3M957.0 574.3h-11.3M957.0 495.5h-11.3M957.0 416.7h-11.3M957.0 337.9h-11.3M957.0 259.0h-11.3M957.0 180.2h-11.3M957.0 101.4h-11.3M957.0 22.6h-11.3M957.0 558.5h-6.2M957.0 542.8h-6.2M957.0 527.0h-6.2M957.0 511.2h-6.2M957.0 479.7h-6.2M957.0 464.0h-6.2M957.0 448.2h-6.2M957.0 432.4h-6.2M957.0 400.9h-6.2M957.0 385.1h-6.2M957.0 369.4h-6.2M957.0 353.6h-6.2M957.0 322.1h-6.2M957.0 306.3h-6.2M957.0 290.6h-6.2M957.0 274.8h-6.2M957.0 243.3h-6.2M957.0 227.5h-6.2M957.0 211.8h-6.2M957.0 196.0h-6.2M957.0 164.5h-6.2M957.0 148.7h-6.2M957.0 132.9h-6.2M957.0 117.2h-6.2M957.0 85.7h-6.2M957.0 69.9h-6.2M957.0 54.1h-6.2M957.0 38.4h-6.2M957.2 575.2H1788.2M1002.6 575.2v11.6M1046.2 575.2v6.4M1089.8 575.2v6.4M1133.5 575.2v6.4M1177.1 575.2v6.4M1220.7 575.2v11.6M1264.3 575.2v6.4M1307.9 575.2v6.4M1351.6 575.2v6.4M1395.2 575.2v6.4M1438.8 575.2v11.6M1482.4 575.2v6.4M1526.0 575.2v6.4M1569.7 575.2v6.4M1613.3 575.2v6.4M1656.9 575.2v11.6M1700.5 575.2v6.4M1744.1 575.2v6.4" stroke="#1c1c1c" stroke-width="1.4" fill="none"/>
<path d="M1790.1 22.0V574.9M1790.1 574.3h11.2M1790.1 551.3h6.2M1790.1 528.3h6.2M1790.1 505.3h6.2M1790.1 482.3h11.2M1790.1 459.4h6.2M1790.1 436.4h6.2M1790.1 413.4h6.2M1790.1 390.4h11.2M1790.1 367.4h6.2M1790.1 344.4h6.2M1790.1 321.4h6.2M1790.1 298.4h11.2M1790.1 275.5h6.2M1790.1 252.5h6.2M1790.1 229.5h6.2M1790.1 206.5h11.2M1790.1 183.5h6.2M1790.1 160.5h6.2M1790.1 137.5h6.2M1790.1 114.6h11.2M1790.1 91.6h6.2M1790.1 68.6h6.2M1790.1 45.6h6.2M1790.1 22.6h11.2" stroke="#d63c3c" stroke-width="1.25" fill="none"/>
<g font-family="'Liberation Sans','DejaVu Sans',sans-serif" font-size="25.5" fill="#3a3a3a" stroke="#3a3a3a" stroke-width="0.35">
<g text-anchor="end">
<text x="938.6" y="582.5" textLength="14.6" lengthAdjust="spacingAndGlyphs">0</text>
<text x="938.6" y="503.7" textLength="43.6" lengthAdjust="spacingAndGlyphs">100</text>
<text x="938.6" y="424.9" textLength="43.6" lengthAdjust="spacingAndGlyphs">200</text>
<text x="938.6" y="346.1" textLength="43.6" lengthAdjust="spacingAndGlyphs">300</text>
<text x="938.6" y="267.2" textLength="43.6" lengthAdjust="spacingAndGlyphs">400</text>
<text x="938.6" y="188.4" textLength="43.6" lengthAdjust="spacingAndGlyphs">500</text>
<text x="938.6" y="109.6" textLength="43.6" lengthAdjust="spacingAndGlyphs">600</text>
<text x="938.6" y="30.8" textLength="43.6" lengthAdjust="spacingAndGlyphs">700</text>
</g><g text-anchor="middle">
<text x="1002.4" y="610.5">0</text>
<text x="1218.7" y="610.5">0.5</text>
<text x="1438.6" y="610.5">1</text>
<text x="1654.9" y="610.5">1.5</text>
</g>
<g fill="#f01212" stroke="#f01212">
<text x="1807.6" y="582.8" textLength="43.8" lengthAdjust="spacingAndGlyphs">400</text>
<text x="1807.6" y="490.8" textLength="43.8" lengthAdjust="spacingAndGlyphs">600</text>
<text x="1807.6" y="398.9" textLength="43.8" lengthAdjust="spacingAndGlyphs">800</text>
<text x="1807.6" y="306.9" textLength="65.6" lengthAdjust="spacingAndGlyphs">1,000</text>
<text x="1807.6" y="215.0" textLength="65.6" lengthAdjust="spacingAndGlyphs">1,200</text>
<text x="1807.6" y="123.1" textLength="65.6" lengthAdjust="spacingAndGlyphs">1,400</text>
<text x="1807.6" y="31.1" textLength="65.6" lengthAdjust="spacingAndGlyphs">1,600</text>
</g></g>
<path d="M1002.5 237.7L1447.7 72.3L1574.6 524.0L1592.4 516.5L1714.4 454.4" stroke="#ff0000" stroke-width="1.8" fill="none"/>
<rect x="994.9" y="230.1" width="15.2" height="15.2" rx="1.8" fill="#ff0000"/>
<rect x="1440.1" y="64.7" width="15.2" height="15.2" rx="1.8" fill="#ff0000"/>
<rect x="1567.0" y="516.4" width="15.2" height="15.2" rx="1.8" fill="#ff0000"/>
<rect x="1584.8" y="508.9" width="15.2" height="15.2" rx="1.8" fill="#ff0000"/>
<rect x="1706.8" y="446.8" width="15.2" height="15.2" rx="1.8" fill="#ff0000"/>
<path d="M1001.3 557.6L1446.3 465.4L1573.2 213.7L1591.1 98.6L1713.2 318.9" stroke="#000" stroke-width="2.1" fill="none"/>
<circle cx="1001.3" cy="557.6" r="6.4" fill="#000"/>
<circle cx="1446.3" cy="465.4" r="6.4" fill="#000"/>
<circle cx="1573.2" cy="213.7" r="6.4" fill="#000"/>
<circle cx="1591.1" cy="98.6" r="6.4" fill="#000"/>
<circle cx="1713.2" cy="318.9" r="6.4" fill="#000"/>
<rect x="969.2" y="33.6" width="112.0" height="76.5" rx="1.5" fill="#fff" stroke="#555" stroke-width="1.4"/>
<path d="M980.4 54.8H1018.4" stroke="#000" stroke-width="1.9"/><circle cx="998.9" cy="54.8" r="6.4"/>
<path d="M980.4 87H1018.6" stroke="#ff0000" stroke-width="1.7"/><rect x="992.6" y="79.9" width="15.2" height="15.4" rx="1.8" fill="#ff0000"/>
<g font-family="'Liberation Sans','DejaVu Sans',sans-serif" font-weight="bold" font-style="italic" font-size="26" fill="#000" stroke="#000" stroke-width="0.4">
<text x="1033.5" y="65.3">Hc</text><text x="1032.2" y="97.4" textLength="39.5" lengthAdjust="spacingAndGlyphs">Ms</text>
</g>
<g font-family="'DejaVu Sans','Liberation Sans',sans-serif" font-weight="bold" font-size="23.5" fill="#000" stroke="#000" stroke-width="0.45" stroke-linejoin="round">
<text x="1170.1" y="640.3" textLength="404.3" lengthAdjust="spacingAndGlyphs">Annealing current [10<tspan font-size="15" dy="-8">8</tspan><tspan dy="8"> mA/cm</tspan><tspan font-size="15" dy="-8">2</tspan><tspan dy="8">]</tspan></text>
<text transform="translate(885.6 342.2) rotate(-90)" textLength="92" lengthAdjust="spacingAndGlyphs">H<tspan font-size="15" dy="3.5">c</tspan><tspan dy="-3.5"> [Oe]</tspan></text>
<text transform="translate(1883.3 212.0) rotate(90)" fill="#f01212" stroke="#f01212" textLength="171.5" lengthAdjust="spacingAndGlyphs">M<tspan font-size="15" dy="3.5">s</tspan><tspan dy="-3.5"> [emu/cm</tspan><tspan font-size="15" dy="-8">3</tspan><tspan dy="8">]</tspan></text>
</g>
<text x="1678.8" y="107.0" font-family="'DejaVu Sans','Liberation Sans',sans-serif" font-size="61" fill="#000">(b)</text>
</g>
</svg>
</body></html>
